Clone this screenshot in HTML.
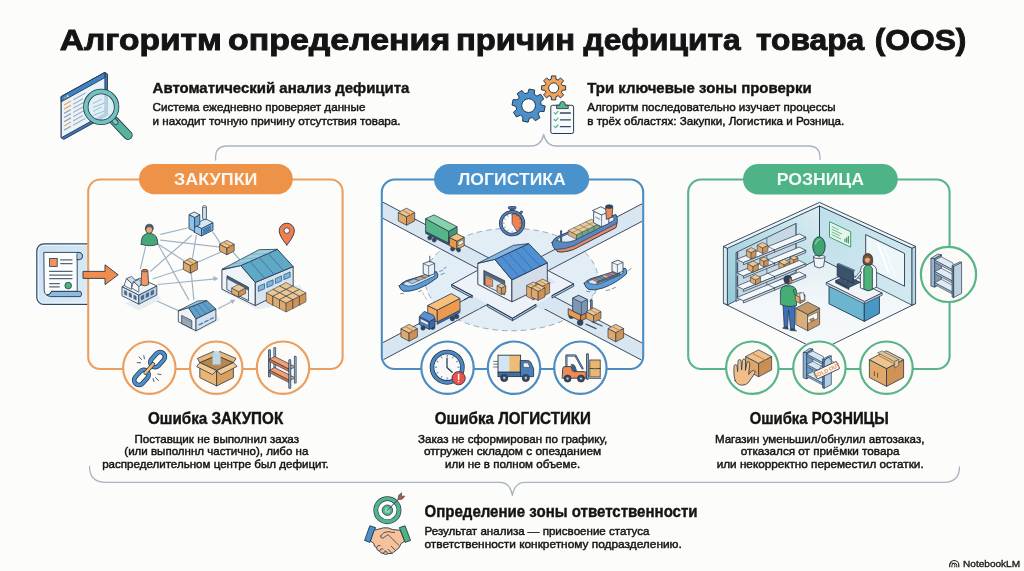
<!DOCTYPE html>
<html lang="ru">
<head>
<meta charset="utf-8">
<title>Алгоритм определения причин дефицита товара (OOS)</title>
<style>
html,body{margin:0;padding:0;background:#fcfcfa;}
body{width:1024px;height:571px;overflow:hidden;font-family:"Liberation Sans",sans-serif;}
svg{display:block;will-change:transform;}
text{font-family:"Liberation Sans",sans-serif;fill:#141414;}
.b{font-weight:bold;}
.body{font-size:11.6px;stroke:#141414;stroke-width:0.45px;}
.h{font-weight:bold;stroke:#141414;stroke-width:0.4px;}
</style>
</head>
<body>
<svg width="1024" height="571" viewBox="0 0 1024 571">
<rect x="0" y="0" width="1024" height="571" fill="#fcfcfa"/>

<!-- ===== TITLE ===== -->
<g class="b" font-size="29.4" style="stroke:#141414;stroke-width:0.9px">
<text x="59.8" y="49.7" textLength="162.0" lengthAdjust="spacingAndGlyphs">Алгоритм</text>
<text x="228.0" y="49.7" textLength="222.2" lengthAdjust="spacingAndGlyphs">определения</text>
<text x="455.9" y="49.7" textLength="119.2" lengthAdjust="spacingAndGlyphs">причин</text>
<text x="583.6" y="49.7" textLength="157.0" lengthAdjust="spacingAndGlyphs">дефицита</text>
<text x="755.9" y="49.7" textLength="108.4" lengthAdjust="spacingAndGlyphs">товара</text>
<text x="874.8" y="49.7" textLength="91.6" lengthAdjust="spacingAndGlyphs">(OOS)</text>
</g>

<!-- ===== HEADER TEXTS ===== -->
<text class="h" x="152.6" y="93.2" font-size="14.8" textLength="256.8" lengthAdjust="spacingAndGlyphs">Автоматический анализ дефицита</text>
<text class="body" x="152.6" y="111.4" textLength="212.8" lengthAdjust="spacingAndGlyphs">Система ежедневно проверяет данные</text>
<text class="body" x="152.6" y="124.8" textLength="248.0" lengthAdjust="spacingAndGlyphs">и находит точную причину отсутствия товара.</text>

<text class="h" x="587.3" y="93.0" font-size="14.8" textLength="224.3" lengthAdjust="spacingAndGlyphs">Три ключевые зоны проверки</text>
<text class="body" x="587.3" y="111.4" textLength="248.3" lengthAdjust="spacingAndGlyphs">Алгоритм последовательно изучает процессы</text>
<text class="body" x="587.3" y="124.8" textLength="257.0" lengthAdjust="spacingAndGlyphs">в трёх областях: Закупки, Логистика и Розница.</text>

<!-- ===== CONNECTORS ===== -->
<g fill="none" stroke="#a9b4c0" stroke-width="1.3" stroke-linecap="round" stroke-linejoin="round">
<path d="M215.6 160 V157.4 Q215.6 146 227 146 H531 Q541 146 543.7 134.5 Q546.4 146 556.4 146 H808.5 Q820 146 820 157.4 V159.5"/>
<path d="M89.5 466.5 Q89.5 482.3 106 482.3 H500 Q510 482.3 512.4 495.3 Q514.8 482.3 524.8 482.3 H943.5 Q959.5 482.3 959.5 467"/>
</g>

<!-- ===== BOXES ===== -->
<g id="ill-doc">
<defs><linearGradient id="gTile" x1="0" y1="0" x2="1" y2="1"><stop offset="0" stop-color="#c9e0f1"/><stop offset="1" stop-color="#deedf8"/></linearGradient></defs>
<rect x="36.8" y="243.8" width="58.0" height="60.6" rx="7" fill="url(#gTile)" stroke="#2f4a68" stroke-width="1.2" />
<rect x="38.4" y="245.4" width="54.8" height="57.4" rx="5.6" fill="none" stroke="#eaf3fa" stroke-width="1.0" />
<path d="M44.2 252.4 H78 Q82.4 252.4 82.4 256.2 Q82.4 259.6 79.4 259.6 H77.2 V291.4 H51.6 Q50 295.6 46.6 294.8 Q44.2 294 44.2 290.6 Z" fill="#fbfcfd" stroke="#27394f" stroke-width="0.9" stroke-linecap="round" stroke-linejoin="round" />
<path d="M77.2 259.6 H79.4 Q82.4 259.6 82.4 256.2 Q82.4 252.4 78 252.4 Q76 254 77.2 259.6 Z" fill="#a9cde8" stroke="#27394f" stroke-width="0.8" stroke-linecap="round" stroke-linejoin="round" />
<path d="M51.6 291.4 H80.6 Q82.8 293.8 80.6 296.6 H50.4 Q48 296 46.6 294.8 Q50 295.6 51.6 291.4 Z" fill="#8dbbe0" stroke="#27394f" stroke-width="0.9" stroke-linecap="round" stroke-linejoin="round" />
<rect x="49.6" y="258.4" width="7.6" height="8.0" rx="0" fill="#f0925a" stroke="#27394f" stroke-width="0.8" />
<polyline points="60.6,259.8 72.0,259.8" fill="none" stroke="#566577" stroke-width="1.25" stroke-linecap="round" stroke-linejoin="round" />
<polyline points="60.6,263.6 72.0,263.6" fill="none" stroke="#566577" stroke-width="1.25" stroke-linecap="round" stroke-linejoin="round" />
<polyline points="49.6,271.4 72.0,271.4" fill="none" stroke="#566577" stroke-width="1.25" stroke-linecap="round" stroke-linejoin="round" />
<polyline points="49.6,275.0 72.0,275.0" fill="none" stroke="#566577" stroke-width="1.25" stroke-linecap="round" stroke-linejoin="round" />
<polyline points="49.6,278.6 72.0,278.6" fill="none" stroke="#566577" stroke-width="1.25" stroke-linecap="round" stroke-linejoin="round" />
<polyline points="49.6,283.6 59.4,283.6" fill="none" stroke="#566577" stroke-width="1.25" stroke-linecap="round" stroke-linejoin="round" />
<polyline points="49.6,286.8 59.4,286.8" fill="none" stroke="#566577" stroke-width="1.25" stroke-linecap="round" stroke-linejoin="round" />
<circle cx="68.2" cy="285.6" r="3.3" fill="#45b876" stroke="#27394f" stroke-width="0.8" />
</g>
<g fill="#fcfcfa" stroke-width="2.1">
<rect x="88.2" y="179.5" width="254.4" height="189.5" rx="12" stroke="#ea9f60"/>
<rect x="381.8" y="179.5" width="261.4" height="189.5" rx="13" stroke="#4d8cc2"/>
<rect x="688.2" y="179.5" width="261.4" height="189.5" rx="13" stroke="#59b48a"/>
</g>

<!-- ===== ILLUSTRATIONS (placeholders) ===== -->
<g id="hicons">
<polygon points="61.2,96.6 104.9,72.4 107.5,74.0 107.5,115.2 63.8,139.4 61.2,137.8" fill="#3d78b5" stroke="#27394f" stroke-width="0.9" stroke-linejoin="round" />
<polygon points="61.2,96.6 104.9,72.4 104.9,113.6 61.2,137.8" fill="#eaf3fa" stroke="#27394f" stroke-width="0.9" stroke-linejoin="round" />
<polygon points="61.2,96.6 104.9,72.4 104.9,77.6 61.2,101.8" fill="#3f83c6" stroke="#27394f" stroke-width="0.9" stroke-linejoin="round" />
<polyline points="64.5,104.7 70.5,101.3" fill="none" stroke="#f0a35a" stroke-width="1.3" stroke-linecap="round" stroke-linejoin="round" />
<polyline points="73.5,99.7 85.0,93.3" fill="none" stroke="#9fb0c2" stroke-width="1.1" stroke-linecap="round" stroke-linejoin="round" />
<polyline points="64.5,108.9 70.5,105.5" fill="none" stroke="#f0a35a" stroke-width="1.3" stroke-linecap="round" stroke-linejoin="round" />
<polyline points="73.5,103.9 82.5,98.9" fill="none" stroke="#9fb0c2" stroke-width="1.1" stroke-linecap="round" stroke-linejoin="round" />
<polyline points="64.5,113.1 70.5,109.7" fill="none" stroke="#8fa2b5" stroke-width="1.3" stroke-linecap="round" stroke-linejoin="round" />
<polyline points="73.5,108.1 85.0,101.7" fill="none" stroke="#9fb0c2" stroke-width="1.1" stroke-linecap="round" stroke-linejoin="round" />
<polyline points="64.5,117.3 70.5,113.9" fill="none" stroke="#8fa2b5" stroke-width="1.3" stroke-linecap="round" stroke-linejoin="round" />
<polyline points="73.5,112.3 82.5,107.3" fill="none" stroke="#9fb0c2" stroke-width="1.1" stroke-linecap="round" stroke-linejoin="round" />
<polyline points="64.5,121.5 70.5,118.1" fill="none" stroke="#8fa2b5" stroke-width="1.3" stroke-linecap="round" stroke-linejoin="round" />
<polyline points="73.5,116.5 85.0,110.1" fill="none" stroke="#9fb0c2" stroke-width="1.1" stroke-linecap="round" stroke-linejoin="round" />
<polyline points="64.5,125.7 70.5,122.3" fill="none" stroke="#f0a35a" stroke-width="1.3" stroke-linecap="round" stroke-linejoin="round" />
<polyline points="73.5,120.7 82.5,115.7" fill="none" stroke="#9fb0c2" stroke-width="1.1" stroke-linecap="round" stroke-linejoin="round" />
<polyline points="64.5,129.9 70.5,126.5" fill="none" stroke="#8fa2b5" stroke-width="1.3" stroke-linecap="round" stroke-linejoin="round" />
<polyline points="73.5,124.9 85.0,118.5" fill="none" stroke="#9fb0c2" stroke-width="1.1" stroke-linecap="round" stroke-linejoin="round" />
<g transform="translate(0.4,0.8)">
<polyline points="113.6,119.8 127.6,134.4" fill="none" stroke="#27394f" stroke-width="9.4" stroke-linecap="round" stroke-linejoin="round" />
<polyline points="113.6,119.8 127.6,134.4" fill="none" stroke="#58b39c" stroke-width="7.6" stroke-linecap="round" stroke-linejoin="round" />
<polyline points="110.5,116.5 115.5,121.6" fill="none" stroke="#27394f" stroke-width="5.2" stroke-linecap="round" stroke-linejoin="round" />
<polyline points="110.5,116.5 115.5,121.6" fill="none" stroke="#7fc7c0" stroke-width="3.6" stroke-linecap="round" stroke-linejoin="round" />
<circle cx="100.8" cy="106.1" r="15.3" fill="#d9eef6" stroke="#27394f" stroke-width="0" fill-opacity="0.78"/>
<circle cx="100.8" cy="106.1" r="15.4" fill="none" stroke="#27394f" stroke-width="5.4" />
<circle cx="100.8" cy="106.1" r="15.4" fill="none" stroke="#72c2bd" stroke-width="3.8" />
<polyline points="93.0,102.5 101.0,98.3" fill="none" stroke="#a9bccb" stroke-width="1.0" stroke-linecap="round" stroke-linejoin="round" />
<polyline points="93.0,106.5 104.0,102.3" fill="none" stroke="#a9bccb" stroke-width="1.0" stroke-linecap="round" stroke-linejoin="round" />
<polyline points="93.0,110.5 101.0,106.3" fill="none" stroke="#a9bccb" stroke-width="1.0" stroke-linecap="round" stroke-linejoin="round" />
<polyline points="93.0,114.5 104.0,110.3" fill="none" stroke="#a9bccb" stroke-width="1.0" stroke-linecap="round" stroke-linejoin="round" />
</g>
<circle cx="65.0" cy="97.6" r="0.9" fill="#f0a35a" stroke="none" stroke-width="0" />
<circle cx="67.6" cy="96.2" r="0.9" fill="#eaf3fa" stroke="none" stroke-width="0" />
<polygon points="541.2,104.8 545.2,106.1 544.1,111.6 539.9,111.3 538.1,113.9 540.0,117.7 535.3,120.8 532.5,117.6 529.4,118.2 528.1,122.2 522.6,121.1 522.9,116.9 520.3,115.1 516.5,117.0 513.4,112.3 516.6,109.5 516.0,106.4 512.0,105.1 513.1,99.6 517.3,99.9 519.1,97.3 517.2,93.5 521.9,90.4 524.7,93.6 527.8,93.0 529.1,89.0 534.6,90.1 534.3,94.3 536.9,96.1 540.7,94.2 543.8,98.9 540.6,101.7" fill="#4b8fcb" stroke="#27394f" stroke-width="1.0" stroke-linejoin="round" /><circle cx="528.6" cy="105.6" r="6.9" fill="#fcfcfa" stroke="#27394f" stroke-width="1.0" />
<polygon points="562.3,85.5 565.6,85.8 565.6,90.0 562.3,90.3 561.4,92.4 563.6,94.9 560.6,97.9 558.1,95.7 556.0,96.6 555.7,99.9 551.5,99.9 551.2,96.6 549.1,95.7 546.6,97.9 543.6,94.9 545.8,92.4 544.9,90.3 541.6,90.0 541.6,85.8 544.9,85.5 545.8,83.4 543.6,80.9 546.6,77.9 549.1,80.1 551.2,79.2 551.5,75.9 555.7,75.9 556.0,79.2 558.1,80.1 560.6,77.9 563.6,80.9 561.4,83.4" fill="#f2a254" stroke="#27394f" stroke-width="1.0" stroke-linejoin="round" /><circle cx="553.6" cy="87.9" r="5.0" fill="#fcfcfa" stroke="#27394f" stroke-width="1.0" />
<rect x="550.8" y="105.3" width="22.8" height="28.2" rx="1.8" fill="#f7fafc" stroke="#27394f" stroke-width="1.0" />
<path d="M556.6 108.2 V105.2 H559.6 Q559.6 101.4 562.4 101.4 Q565.4 101.4 565.4 105.2 H568.2 V108.2 Z" fill="#59b58b" stroke="#27394f" stroke-width="0.9" stroke-linecap="round" stroke-linejoin="round" />
<polyline points="554.2,112.7 555.6,114.1 558.0,111.4" fill="none" stroke="#4db383" stroke-width="1.2" stroke-linecap="round" stroke-linejoin="round" />
<polyline points="560.4,113.0 570.4,113.0" fill="none" stroke="#33465c" stroke-width="1.3" stroke-linecap="round" stroke-linejoin="round" />
<polyline points="554.2,119.5 555.6,120.9 558.0,118.2" fill="none" stroke="#4db383" stroke-width="1.2" stroke-linecap="round" stroke-linejoin="round" />
<polyline points="560.4,119.8 570.4,119.8" fill="none" stroke="#33465c" stroke-width="1.3" stroke-linecap="round" stroke-linejoin="round" />
<polyline points="554.2,126.3 555.6,127.7 558.0,125.0" fill="none" stroke="#4db383" stroke-width="1.2" stroke-linecap="round" stroke-linejoin="round" />
<polyline points="560.4,126.6 570.4,126.6" fill="none" stroke="#33465c" stroke-width="1.3" stroke-linecap="round" stroke-linejoin="round" />
</g>
<g id="ill-zak">
<polyline points="160.7,234.4 187.4,228.0" fill="none" stroke="#a1b4c4" stroke-width="1.2" stroke-linecap="round" stroke-linejoin="round" />
<polyline points="160.7,240.2 220.4,247.1" fill="none" stroke="#a1b4c4" stroke-width="1.2" stroke-linecap="round" stroke-linejoin="round" />
<polyline points="158.2,244.5 188.7,299.6" fill="none" stroke="#a1b4c4" stroke-width="1.2" stroke-linecap="round" stroke-linejoin="round" />
<polyline points="145.5,247.1 140.4,268.7" fill="none" stroke="#a1b4c4" stroke-width="1.2" stroke-linecap="round" stroke-linejoin="round" />
<polyline points="156.9,243.3 183.6,260.5" fill="none" stroke="#a1b4c4" stroke-width="1.2" stroke-linecap="round" stroke-linejoin="round" />
<polyline points="150.6,271.2 191.2,235.7" fill="none" stroke="#a1b4c4" stroke-width="1.2" stroke-linecap="round" stroke-linejoin="round" />
<polyline points="153.1,278.8 183.6,268.7" fill="none" stroke="#a1b4c4" stroke-width="1.2" stroke-linecap="round" stroke-linejoin="round" />
<polyline points="153.1,299.2 178.5,310.6" fill="none" stroke="#a1b4c4" stroke-width="1.2" stroke-linecap="round" stroke-linejoin="round" />
<polyline points="196.3,235.7 192.5,258.0" fill="none" stroke="#a1b4c4" stroke-width="1.2" stroke-linecap="round" stroke-linejoin="round" />
<polyline points="212.8,231.8 220.4,243.3" fill="none" stroke="#a1b4c4" stroke-width="1.2" stroke-linecap="round" stroke-linejoin="round" />
<polyline points="197.6,262.3 220.4,252.2" fill="none" stroke="#a1b4c4" stroke-width="1.2" stroke-linecap="round" stroke-linejoin="round" />
<polyline points="191.2,272.5 193.8,299.4" fill="none" stroke="#a1b4c4" stroke-width="1.2" stroke-linecap="round" stroke-linejoin="round" />
<polyline points="158.0,284.5 215.5,278.8" fill="none" stroke="#a1b4c4" stroke-width="1.2" stroke-linecap="round" stroke-linejoin="round" />
<polygon points="218.0,278.5 213.6,276.4 214.0,280.8" fill="#a1b4c4" stroke="#a1b4c4" stroke-width="0.5" stroke-linejoin="round" />
<polyline points="218.6,308.5 232.5,301.2" fill="none" stroke="#a1b4c4" stroke-width="1.2" stroke-linecap="round" stroke-linejoin="round" />
<polygon points="235.0,299.9 230.4,300.0 232.6,303.6" fill="#a1b4c4" stroke="#a1b4c4" stroke-width="0.5" stroke-linejoin="round" />
<polyline points="233.0,252.0 240.0,260.0" fill="none" stroke="#a1b4c4" stroke-width="1.2" stroke-linecap="round" stroke-linejoin="round" />
<polygon points="83.0,271.4 105.0,271.4 105.0,264.8 118.2,274.8 105.0,284.6 105.0,278.4 83.0,278.4" fill="#f08c4e" stroke="#27394f" stroke-width="0.9" stroke-linejoin="round" />
<path d="M141.2 244.2 Q141.0 234.4 147.2 233.6 L151.2 233.6 Q157.8 234.4 157.8 244.2 Q149.4 247.4 141.2 244.2 Z" fill="#45a877" stroke="#27394f" stroke-width="0.8" stroke-linecap="round" stroke-linejoin="round" />
<ellipse cx="149.2" cy="229.4" rx="3.5" ry="4.0" fill="#e9ab72" stroke="#27394f" stroke-width="0.8" />
<path d="M145.4 229.6 Q144.8 224.2 149.4 224.2 Q153.8 224.2 153.2 229.4 Q152.2 226.4 149.2 226.6 Q146.4 226.6 145.4 229.6 Z" fill="#46607c" stroke="#27394f" stroke-width="0.6" stroke-linecap="round" stroke-linejoin="round" />
<polygon points="194.0,224.6 201.6,228.4 201.6,236.0 194.0,232.2" fill="#9ccaec" stroke="#27394f" stroke-width="0.8" stroke-linejoin="round" />
<polygon points="201.6,228.4 213.0,222.6 213.0,230.2 201.6,236.0" fill="#78b0df" stroke="#27394f" stroke-width="0.8" stroke-linejoin="round" />
<polygon points="194.0,224.6 205.4,218.8 213.0,222.6 201.6,228.4" fill="#d4e8f6" stroke="#27394f" stroke-width="0.8" stroke-linejoin="round" />
<polygon points="189.0,214.6 194.6,217.4 194.6,231.6 189.0,228.8" fill="#8fc2e8" stroke="#27394f" stroke-width="0.8" stroke-linejoin="round" />
<polygon points="194.6,217.4 199.8,214.8 199.8,224.6 194.6,227.2" fill="#6ea9da" stroke="#27394f" stroke-width="0.8" stroke-linejoin="round" />
<polygon points="189.0,214.6 194.2,212.0 199.8,214.8 194.6,217.4" fill="#d9ebf8" stroke="#27394f" stroke-width="0.8" stroke-linejoin="round" />
<rect x="202.6" y="206.2" width="3.8" height="13.4" rx="1.6" fill="#cfe3f3" stroke="#27394f" stroke-width="0.8" />
<ellipse cx="204.5" cy="206.6" rx="1.9" ry="0.9" fill="#eaf3fa" stroke="#27394f" stroke-width="0.6" />
<polyline points="203.4,229.6 210.6,226.0" fill="none" stroke="#2f6299" stroke-width="0.9" stroke-linecap="round" stroke-linejoin="round" />
<polyline points="203.4,230.9 210.6,227.3" fill="none" stroke="#2f6299" stroke-width="0.9" stroke-linecap="round" stroke-linejoin="round" />
<polyline points="203.4,232.3 210.6,228.7" fill="none" stroke="#2f6299" stroke-width="0.9" stroke-linecap="round" stroke-linejoin="round" />
<polyline points="203.4,233.7 210.6,230.1" fill="none" stroke="#2f6299" stroke-width="0.9" stroke-linecap="round" stroke-linejoin="round" />
<polygon points="183.4,261.8 190.4,265.5 190.4,273.2 183.4,269.6" fill="#e0a869" stroke="#27394f" stroke-width="0.7" stroke-linejoin="round" />
<polygon points="190.4,265.5 197.4,261.8 197.4,269.6 190.4,273.2" fill="#cf9355" stroke="#27394f" stroke-width="0.7" stroke-linejoin="round" />
<polygon points="190.4,258.2 197.4,261.8 190.4,265.5 183.4,261.8" fill="#edc590" stroke="#27394f" stroke-width="0.7" stroke-linejoin="round" />
<polyline points="186.9,260.0 193.9,263.7" fill="none" stroke="#c98a48" stroke-width="1.1199999999999999" stroke-linecap="round" stroke-linejoin="round" />
<polyline points="193.9,263.7 193.9,266.4" fill="none" stroke="#c98a48" stroke-width="1.1199999999999999" stroke-linecap="round" stroke-linejoin="round" />
<polygon points="219.6,244.2 226.9,248.0 226.9,254.8 219.6,251.0" fill="#e0a869" stroke="#27394f" stroke-width="0.7" stroke-linejoin="round" />
<polygon points="226.9,248.0 234.2,244.2 234.2,251.0 226.9,254.8" fill="#cf9355" stroke="#27394f" stroke-width="0.7" stroke-linejoin="round" />
<polygon points="226.9,240.4 234.2,244.2 226.9,248.0 219.6,244.2" fill="#edc590" stroke="#27394f" stroke-width="0.7" stroke-linejoin="round" />
<polyline points="223.2,242.3 230.5,246.1" fill="none" stroke="#c98a48" stroke-width="1.1199999999999999" stroke-linecap="round" stroke-linejoin="round" />
<polyline points="230.5,246.1 230.5,248.7" fill="none" stroke="#c98a48" stroke-width="1.1199999999999999" stroke-linecap="round" stroke-linejoin="round" />
<polygon points="124.0,303.0 139.0,310.4 161.0,299.0 156.8,293.0" fill="#e6edf3" stroke="none" stroke-width="0" stroke-linejoin="round" />
<polygon points="122.0,286.6 138.8,295.0 138.8,304.2 122.0,295.8" fill="#dfe9f3" stroke="#27394f" stroke-width="0.8" stroke-linejoin="round" />
<polygon points="138.8,295.0 156.8,285.9 156.8,295.0 138.8,304.2" fill="#b9d0e8" stroke="#27394f" stroke-width="0.8" stroke-linejoin="round" />
<polygon points="122.0,286.6 139.6,278.2 156.8,285.9 138.8,295.0" fill="#eef3f8" stroke="#27394f" stroke-width="0.8" stroke-linejoin="round" />
<polygon points="124.2,285.6 126.4,278.6 131.6,283.4 131.6,289.4" fill="#f6f9fb" stroke="#27394f" stroke-width="0.7" stroke-linejoin="round" />
<polygon points="126.4,278.6 131.6,276.4 136.4,281.0 131.6,283.4" fill="#cddbe8" stroke="#27394f" stroke-width="0.7" stroke-linejoin="round" />
<polygon points="131.6,288.0 133.6,281.6 138.8,286.4 138.8,292.2" fill="#f6f9fb" stroke="#27394f" stroke-width="0.7" stroke-linejoin="round" />
<polygon points="133.6,281.6 138.8,279.4 143.6,284.0 138.8,286.4" fill="#cddbe8" stroke="#27394f" stroke-width="0.7" stroke-linejoin="round" />
<path d="M141.0 284.6 L141.8 270.6 Q144.8 268.6 147.8 270.6 L148.6 284.6 Q144.8 287.2 141.0 284.6 Z" fill="#ee9a62" stroke="#27394f" stroke-width="0.8" stroke-linecap="round" stroke-linejoin="round" />
<ellipse cx="144.8" cy="270.6" rx="3.0" ry="1.3" fill="#c9713e" stroke="#27394f" stroke-width="0.6" />
<polygon points="124.4,290.4 126.8,291.6 126.8,295.4 124.4,294.2" fill="#46709f" stroke="#27394f" stroke-width="0.4" stroke-linejoin="round" />
<polygon points="129.1,292.7 131.5,293.9 131.5,297.7 129.1,296.5" fill="#46709f" stroke="#27394f" stroke-width="0.4" stroke-linejoin="round" />
<polygon points="133.8,295.0 136.2,296.2 136.2,300.0 133.8,298.8" fill="#46709f" stroke="#27394f" stroke-width="0.4" stroke-linejoin="round" />
<polygon points="141.2,296.2 143.8,294.9 143.8,298.7 141.2,300.0" fill="#46709f" stroke="#27394f" stroke-width="0.4" stroke-linejoin="round" />
<polygon points="146.1,293.8 148.7,292.5 148.7,296.3 146.1,297.6" fill="#46709f" stroke="#27394f" stroke-width="0.4" stroke-linejoin="round" />
<polygon points="151.0,291.4 153.6,290.1 153.6,293.9 151.0,295.2" fill="#46709f" stroke="#27394f" stroke-width="0.4" stroke-linejoin="round" />
<polygon points="180.0,324.0 196.0,332.4 220.0,320.0 215.9,314.0" fill="#e6edf3" stroke="none" stroke-width="0" stroke-linejoin="round" />
<polygon points="178.3,311.1 188.6,307.6 196.0,318.9 196.0,330.8 178.3,321.7" fill="#eef3f8" stroke="#27394f" stroke-width="0.8" stroke-linejoin="round" />
<polygon points="196.0,318.9 215.9,309.0 215.9,320.3 196.0,330.8" fill="#d2e1ee" stroke="#27394f" stroke-width="0.8" stroke-linejoin="round" />
<polygon points="188.6,307.6 206.8,300.6 215.9,309.0 196.0,318.9" fill="#5f9fc8" stroke="#27394f" stroke-width="0.8" stroke-linejoin="round" />
<polygon points="178.3,310.7 197.7,300.9 206.8,300.6 188.6,307.6" fill="#93c3df" stroke="#27394f" stroke-width="0.7" stroke-linejoin="round" />
<polyline points="193.2,305.9 201.0,316.4" fill="none" stroke="#35668c" stroke-width="0.6" stroke-linecap="round" stroke-linejoin="round" />
<polyline points="197.7,304.1 205.9,313.9" fill="none" stroke="#35668c" stroke-width="0.6" stroke-linecap="round" stroke-linejoin="round" />
<polyline points="202.2,302.4 210.9,311.5" fill="none" stroke="#35668c" stroke-width="0.6" stroke-linecap="round" stroke-linejoin="round" />
<polygon points="181.6,315.4 191.8,320.5 191.8,328.7 181.6,323.4" fill="#9ba7b2" stroke="#27394f" stroke-width="0.7" stroke-linejoin="round" />
<polyline points="181.6,317.4 191.8,322.5" fill="none" stroke="#6f7c88" stroke-width="0.5" stroke-linecap="round" stroke-linejoin="round" />
<polyline points="199.2,324.8 202.6,323.1" fill="none" stroke="#3c6fa6" stroke-width="1.2" stroke-linecap="round" stroke-linejoin="round" />
<polyline points="204.8,322.0 208.2,320.3" fill="none" stroke="#3c6fa6" stroke-width="1.2" stroke-linecap="round" stroke-linejoin="round" />
<polyline points="210.2,319.2 213.2,317.7" fill="none" stroke="#3c6fa6" stroke-width="1.2" stroke-linecap="round" stroke-linejoin="round" />
<polygon points="222.0,291.0 257.0,309.5 308.0,300.0 300.0,285.0" fill="#e6edf3" stroke="none" stroke-width="0" stroke-linejoin="round" />
<polygon points="221.9,269.9 240.8,265.5 255.3,282.4 255.3,305.6 221.9,289.2" fill="#eff4f8" stroke="#27394f" stroke-width="0.9" stroke-linejoin="round" />
<polygon points="255.3,282.4 293.2,266.6 293.2,287.0 255.3,305.6" fill="#d7e4ef" stroke="#27394f" stroke-width="0.9" stroke-linejoin="round" />
<polygon points="240.8,265.5 277.4,249.3 293.2,266.6 255.3,282.4" fill="#5fa8c6" stroke="#27394f" stroke-width="0.9" stroke-linejoin="round" />
<polygon points="221.9,269.3 259.1,249.7 277.4,249.3 240.8,265.5" fill="#9ccfe0" stroke="#27394f" stroke-width="0.8" stroke-linejoin="round" />
<polyline points="249.9,261.4 264.8,278.4" fill="none" stroke="#2f6788" stroke-width="0.7" stroke-linecap="round" stroke-linejoin="round" />
<polyline points="231.2,264.4 249.9,261.4" fill="none" stroke="#5f9fb8" stroke-width="0.5" stroke-linecap="round" stroke-linejoin="round" />
<polyline points="259.1,257.4 274.2,274.5" fill="none" stroke="#2f6788" stroke-width="0.7" stroke-linecap="round" stroke-linejoin="round" />
<polyline points="240.5,259.5 259.1,257.4" fill="none" stroke="#5f9fb8" stroke-width="0.5" stroke-linecap="round" stroke-linejoin="round" />
<polyline points="268.2,253.4 283.7,270.6" fill="none" stroke="#2f6788" stroke-width="0.7" stroke-linecap="round" stroke-linejoin="round" />
<polyline points="249.8,254.6 268.2,253.4" fill="none" stroke="#5f9fb8" stroke-width="0.5" stroke-linecap="round" stroke-linejoin="round" />
<polygon points="227.0,275.7 248.5,287.3 248.5,300.6 227.0,289.4" fill="#4b6076" stroke="#27394f" stroke-width="0.8" stroke-linejoin="round" />
<polygon points="227.0,278.6 248.5,290.2 248.5,300.6 227.0,289.4" fill="#e3eaf0" stroke="#27394f" stroke-width="0.5" stroke-linejoin="round" />
<polygon points="231.6,288.0 238.6,291.7 238.6,297.0 231.6,293.4" fill="#e0a869" stroke="#27394f" stroke-width="0.6" stroke-linejoin="round" />
<polygon points="238.6,291.7 245.6,288.0 245.6,293.4 238.6,297.0" fill="#cf9355" stroke="#27394f" stroke-width="0.6" stroke-linejoin="round" />
<polygon points="238.6,284.4 245.6,288.0 238.6,291.7 231.6,288.0" fill="#edc590" stroke="#27394f" stroke-width="0.6" stroke-linejoin="round" />
<polygon points="258.4,286.4 264.6,283.7 264.6,288.7 258.4,291.4" fill="#7fb7d8" stroke="#2f5f8a" stroke-width="0.8" stroke-linejoin="round" />
<polygon points="266.9,282.5 273.1,279.8 273.1,284.8 266.9,287.5" fill="#7fb7d8" stroke="#2f5f8a" stroke-width="0.8" stroke-linejoin="round" />
<polygon points="275.4,278.6 281.6,275.9 281.6,280.9 275.4,283.6" fill="#7fb7d8" stroke="#2f5f8a" stroke-width="0.8" stroke-linejoin="round" />
<polygon points="283.9,274.7 290.1,272.0 290.1,277.0 283.9,279.7" fill="#7fb7d8" stroke="#2f5f8a" stroke-width="0.8" stroke-linejoin="round" />
<polygon points="279.5,286.0 286.1,289.5 286.1,298.4 279.5,295.0" fill="#e0a869" stroke="#27394f" stroke-width="0.55" stroke-linejoin="round" />
<polygon points="286.1,289.5 292.7,286.0 292.7,295.0 286.1,298.4" fill="#cf9355" stroke="#27394f" stroke-width="0.55" stroke-linejoin="round" />
<polygon points="286.1,282.6 292.7,286.0 286.1,289.5 279.5,286.0" fill="#edc590" stroke="#27394f" stroke-width="0.55" stroke-linejoin="round" />
<polygon points="272.9,289.4 279.5,292.9 279.5,301.8 272.9,298.4" fill="#e0a869" stroke="#27394f" stroke-width="0.55" stroke-linejoin="round" />
<polygon points="279.5,292.9 286.1,289.4 286.1,298.4 279.5,301.8" fill="#cf9355" stroke="#27394f" stroke-width="0.55" stroke-linejoin="round" />
<polygon points="279.5,286.0 286.1,289.4 279.5,292.9 272.9,289.4" fill="#edc590" stroke="#27394f" stroke-width="0.55" stroke-linejoin="round" />
<polygon points="286.1,289.4 292.7,292.9 292.7,301.8 286.1,298.4" fill="#e0a869" stroke="#27394f" stroke-width="0.55" stroke-linejoin="round" />
<polygon points="292.7,292.9 299.3,289.4 299.3,298.4 292.7,301.8" fill="#cf9355" stroke="#27394f" stroke-width="0.55" stroke-linejoin="round" />
<polygon points="292.7,286.0 299.3,289.4 292.7,292.9 286.1,289.4" fill="#edc590" stroke="#27394f" stroke-width="0.55" stroke-linejoin="round" />
<polygon points="266.3,292.8 272.9,296.3 272.9,305.2 266.3,301.8" fill="#e0a869" stroke="#27394f" stroke-width="0.55" stroke-linejoin="round" />
<polygon points="272.9,296.3 279.5,292.8 279.5,301.8 272.9,305.2" fill="#cf9355" stroke="#27394f" stroke-width="0.55" stroke-linejoin="round" />
<polygon points="272.9,289.4 279.5,292.8 272.9,296.3 266.3,292.8" fill="#edc590" stroke="#27394f" stroke-width="0.55" stroke-linejoin="round" />
<polygon points="279.5,292.8 286.1,296.3 286.1,305.2 279.5,301.8" fill="#e0a869" stroke="#27394f" stroke-width="0.55" stroke-linejoin="round" />
<polygon points="286.1,296.3 292.7,292.8 292.7,301.8 286.1,305.2" fill="#cf9355" stroke="#27394f" stroke-width="0.55" stroke-linejoin="round" />
<polygon points="286.1,289.4 292.7,292.8 286.1,296.3 279.5,292.8" fill="#edc590" stroke="#27394f" stroke-width="0.55" stroke-linejoin="round" />
<polygon points="292.7,292.8 299.3,296.3 299.3,305.2 292.7,301.8" fill="#e0a869" stroke="#27394f" stroke-width="0.55" stroke-linejoin="round" />
<polygon points="299.3,296.3 305.9,292.8 305.9,301.8 299.3,305.2" fill="#cf9355" stroke="#27394f" stroke-width="0.55" stroke-linejoin="round" />
<polygon points="299.3,289.4 305.9,292.8 299.3,296.3 292.7,292.8" fill="#edc590" stroke="#27394f" stroke-width="0.55" stroke-linejoin="round" />
<polygon points="272.9,296.2 279.5,299.7 279.5,308.6 272.9,305.2" fill="#e0a869" stroke="#27394f" stroke-width="0.55" stroke-linejoin="round" />
<polygon points="279.5,299.7 286.1,296.2 286.1,305.2 279.5,308.6" fill="#cf9355" stroke="#27394f" stroke-width="0.55" stroke-linejoin="round" />
<polygon points="279.5,292.8 286.1,296.2 279.5,299.7 272.9,296.2" fill="#edc590" stroke="#27394f" stroke-width="0.55" stroke-linejoin="round" />
<polygon points="286.1,296.2 292.7,299.7 292.7,308.6 286.1,305.2" fill="#e0a869" stroke="#27394f" stroke-width="0.55" stroke-linejoin="round" />
<polygon points="292.7,299.7 299.3,296.2 299.3,305.2 292.7,308.6" fill="#cf9355" stroke="#27394f" stroke-width="0.55" stroke-linejoin="round" />
<polygon points="292.7,292.8 299.3,296.2 292.7,299.7 286.1,296.2" fill="#edc590" stroke="#27394f" stroke-width="0.55" stroke-linejoin="round" />
<polygon points="279.5,299.6 286.1,303.1 286.1,312.0 279.5,308.6" fill="#e0a869" stroke="#27394f" stroke-width="0.55" stroke-linejoin="round" />
<polygon points="286.1,303.1 292.7,299.6 292.7,308.6 286.1,312.0" fill="#cf9355" stroke="#27394f" stroke-width="0.55" stroke-linejoin="round" />
<polygon points="286.1,296.2 292.7,299.6 286.1,303.1 279.5,299.6" fill="#edc590" stroke="#27394f" stroke-width="0.55" stroke-linejoin="round" />
<path d="M286.8 245.0 Q279.2 236 279.2 230.8 A7.6 7.6 0 0 1 294.4 230.8 Q294.4 236 286.8 245.0 Z" fill="#f07d4c" stroke="#27394f" stroke-width="0.9" stroke-linecap="round" stroke-linejoin="round" />
<circle cx="286.8" cy="230.6" r="2.8" fill="#fcfcfa" stroke="#27394f" stroke-width="0.8" />
</g>
<g id="ill-log">
<defs><clipPath id="clipLog"><rect x="383" y="180" width="259" height="188" rx="12"/></clipPath></defs>
<g clip-path="url(#clipLog)">
<ellipse cx="511.5" cy="279.5" rx="86.5" ry="51.3" fill="#e3edf6" stroke="#9aa9b9" stroke-width="1.0" stroke-dasharray="5.5 4"/>
<polygon points="370.0,195.4 490.0,258.6 490.0,275.1 370.0,211.5" fill="#d8e6f2" stroke="none" stroke-width="0" stroke-linejoin="round" /><polyline points="370.0,195.4 490.0,258.6" fill="none" stroke="#27394f" stroke-width="0.9" stroke-linecap="round" stroke-linejoin="round" /><polyline points="490.0,275.1 370.0,211.5" fill="none" stroke="#27394f" stroke-width="0.9" stroke-linecap="round" stroke-linejoin="round" />
<polygon points="535.0,259.8 655.0,197.0 655.0,214.5 535.0,277.5" fill="#d8e6f2" stroke="none" stroke-width="0" stroke-linejoin="round" /><polyline points="535.0,259.8 655.0,197.0" fill="none" stroke="#27394f" stroke-width="0.9" stroke-linecap="round" stroke-linejoin="round" /><polyline points="655.0,214.5 535.0,277.5" fill="none" stroke="#27394f" stroke-width="0.9" stroke-linecap="round" stroke-linejoin="round" />
<polygon points="472.2,295.6 370.0,349.4 370.0,366.8 487.6,304.4" fill="#d8e6f2" stroke="none" stroke-width="0" stroke-linejoin="round" /><polyline points="472.2,295.6 370.0,349.4" fill="none" stroke="#27394f" stroke-width="0.9" stroke-linecap="round" stroke-linejoin="round" /><polyline points="370.0,366.8 487.6,304.4" fill="none" stroke="#27394f" stroke-width="0.9" stroke-linecap="round" stroke-linejoin="round" />
<polygon points="552.0,295.6 655.0,349.8 655.0,367.2 535.9,304.4" fill="#d8e6f2" stroke="none" stroke-width="0" stroke-linejoin="round" /><polyline points="552.0,295.6 655.0,349.8" fill="none" stroke="#27394f" stroke-width="0.9" stroke-linecap="round" stroke-linejoin="round" /><polyline points="655.0,367.2 535.9,304.4" fill="none" stroke="#27394f" stroke-width="0.9" stroke-linecap="round" stroke-linejoin="round" />
<polygon points="451.7,284.6 512.5,318.3 573.6,283.9 573.6,286.3 512.5,320.9 451.7,287.0" fill="#a9c3db" stroke="none" stroke-width="0" stroke-linejoin="round" />
<polygon points="451.7,284.6 512.5,318.3 573.6,283.9 512.5,250.6" fill="#edf2f8" stroke="none" stroke-width="0" stroke-linejoin="round" />
<polygon points="472.2,295.6 487.6,304.4 481.6,310.4 466.2,301.6" fill="#d8e6f2" stroke="none" stroke-width="0" stroke-linejoin="round" />
<polygon points="535.9,304.4 552.0,295.6 558.0,301.6 541.9,310.4" fill="#d8e6f2" stroke="none" stroke-width="0" stroke-linejoin="round" />
<polygon points="451.7,284.6 472.2,295.6 472.2,298.0 451.7,287.0" fill="#a9c3db" stroke="#27394f" stroke-width="0.8" stroke-linejoin="round" /><polyline points="451.7,284.6 472.2,295.6" fill="none" stroke="#27394f" stroke-width="0.9" stroke-linecap="round" stroke-linejoin="round" />
<polygon points="487.6,304.4 512.5,318.3 512.5,320.7 487.6,306.8" fill="#a9c3db" stroke="#27394f" stroke-width="0.8" stroke-linejoin="round" /><polyline points="487.6,304.4 512.5,318.3" fill="none" stroke="#27394f" stroke-width="0.9" stroke-linecap="round" stroke-linejoin="round" />
<polygon points="512.5,318.3 535.9,304.4 535.9,306.8 512.5,320.7" fill="#a9c3db" stroke="#27394f" stroke-width="0.8" stroke-linejoin="round" /><polyline points="512.5,318.3 535.9,304.4" fill="none" stroke="#27394f" stroke-width="0.9" stroke-linecap="round" stroke-linejoin="round" />
<polygon points="552.0,295.6 573.6,283.9 573.6,286.3 552.0,298.0" fill="#a9c3db" stroke="#27394f" stroke-width="0.8" stroke-linejoin="round" /><polyline points="552.0,295.6 573.6,283.9" fill="none" stroke="#27394f" stroke-width="0.9" stroke-linecap="round" stroke-linejoin="round" />
<polyline points="451.7,284.6 480.0,269.0" fill="none" stroke="#27394f" stroke-width="0.9" stroke-linecap="round" stroke-linejoin="round" />
<polyline points="573.6,283.9 545.0,269.0" fill="none" stroke="#27394f" stroke-width="0.9" stroke-linecap="round" stroke-linejoin="round" />
<polyline points="472.2,295.6 464.2,299.8" fill="none" stroke="#27394f" stroke-width="0.9" stroke-linecap="round" stroke-linejoin="round" />
<polyline points="487.6,304.4 479.6,308.6" fill="none" stroke="#27394f" stroke-width="0.9" stroke-linecap="round" stroke-linejoin="round" />
<polygon points="477.0,285.0 512.0,303.0 556.0,282.0 548.0,277.0" fill="#dbe5ef" stroke="none" stroke-width="0" stroke-linejoin="round" />
<polygon points="477.8,263.3 494.8,259.4 511.9,279.9 511.9,301.8 477.8,284.3" fill="#eef3f8" stroke="#27394f" stroke-width="0.9" stroke-linejoin="round" />
<polygon points="511.9,279.9 547.3,262.8 547.3,284.7 511.9,301.8" fill="#d3deea" stroke="#27394f" stroke-width="0.9" stroke-linejoin="round" />
<polygon points="494.8,259.4 528.7,243.6 547.3,262.8 511.9,279.9" fill="#4f8fd3" stroke="#27394f" stroke-width="0.9" stroke-linejoin="round" />
<polygon points="477.8,263.3 513.4,245.3 528.7,243.6 494.8,259.4" fill="#86b6e4" stroke="#27394f" stroke-width="0.8" stroke-linejoin="round" />
<polyline points="501.6,256.2 519.0,276.5" fill="none" stroke="#2f5f9a" stroke-width="0.6" stroke-linecap="round" stroke-linejoin="round" />
<polyline points="508.4,253.1 526.1,273.1" fill="none" stroke="#2f5f9a" stroke-width="0.6" stroke-linecap="round" stroke-linejoin="round" />
<polyline points="515.1,249.9 533.1,269.6" fill="none" stroke="#2f5f9a" stroke-width="0.6" stroke-linecap="round" stroke-linejoin="round" />
<polyline points="521.9,246.8 540.2,266.2" fill="none" stroke="#2f5f9a" stroke-width="0.6" stroke-linecap="round" stroke-linejoin="round" />
<polygon points="483.9,270.5 504.7,280.8 504.7,294.8 483.9,284.7" fill="#56677a" stroke="#27394f" stroke-width="0.8" stroke-linejoin="round" />
<polygon points="485.2,275.0 504.7,284.6 504.7,294.8 485.2,285.4" fill="#dfe6ee" stroke="#27394f" stroke-width="0.5" stroke-linejoin="round" />
<polygon points="485.2,276.4 492.6,280.0 492.6,286.6 485.2,285.4" fill="#e8935a" stroke="#27394f" stroke-width="0.5" stroke-linejoin="round" />
<polygon points="497.0,285.7 501.4,288.0 501.4,294.6 497.0,292.3" fill="#e0a869" stroke="#27394f" stroke-width="0.6" stroke-linejoin="round" />
<polygon points="501.4,288.0 505.8,285.7 505.8,292.3 501.4,294.6" fill="#cf9355" stroke="#27394f" stroke-width="0.6" stroke-linejoin="round" />
<polygon points="501.4,283.4 505.8,285.7 501.4,288.0 497.0,285.7" fill="#edc590" stroke="#27394f" stroke-width="0.6" stroke-linejoin="round" />
<polygon points="526.6,285.5 533.4,289.1 533.4,299.8 526.6,296.3" fill="#e0a869" stroke="#27394f" stroke-width="0.6" stroke-linejoin="round" />
<polygon points="533.4,289.1 540.2,285.5 540.2,296.3 533.4,299.8" fill="#cf9355" stroke="#27394f" stroke-width="0.6" stroke-linejoin="round" />
<polygon points="533.4,282.0 540.2,285.5 533.4,289.1 526.6,285.5" fill="#edc590" stroke="#27394f" stroke-width="0.6" stroke-linejoin="round" />
<polyline points="530.0,283.8 536.8,287.3" fill="none" stroke="#c98a48" stroke-width="0.96" stroke-linecap="round" stroke-linejoin="round" />
<polyline points="536.8,287.3 536.8,290.5" fill="none" stroke="#c98a48" stroke-width="0.96" stroke-linecap="round" stroke-linejoin="round" />
<polygon points="535.8,282.6 542.7,286.2 542.7,296.6 535.8,293.0" fill="#e0a869" stroke="#27394f" stroke-width="0.6" stroke-linejoin="round" />
<polygon points="542.7,286.2 549.6,282.6 549.6,293.0 542.7,296.6" fill="#cf9355" stroke="#27394f" stroke-width="0.6" stroke-linejoin="round" />
<polygon points="542.7,279.0 549.6,282.6 542.7,286.2 535.8,282.6" fill="#edc590" stroke="#27394f" stroke-width="0.6" stroke-linejoin="round" />
<polyline points="539.2,280.8 546.2,284.4" fill="none" stroke="#c98a48" stroke-width="0.96" stroke-linecap="round" stroke-linejoin="round" />
<polyline points="546.2,284.4 546.2,287.6" fill="none" stroke="#c98a48" stroke-width="0.96" stroke-linecap="round" stroke-linejoin="round" />
<polygon points="531.4,287.7 538.2,291.3 538.2,300.4 531.4,296.9" fill="#e0a869" stroke="#27394f" stroke-width="0.6" stroke-linejoin="round" />
<polygon points="538.2,291.3 545.0,287.7 545.0,296.9 538.2,300.4" fill="#cf9355" stroke="#27394f" stroke-width="0.6" stroke-linejoin="round" />
<polygon points="538.2,284.2 545.0,287.7 538.2,291.3 531.4,287.7" fill="#edc590" stroke="#27394f" stroke-width="0.6" stroke-linejoin="round" />
<polyline points="534.8,286.0 541.6,289.5" fill="none" stroke="#c98a48" stroke-width="0.96" stroke-linecap="round" stroke-linejoin="round" />
<polyline points="541.6,289.5 541.6,292.4" fill="none" stroke="#c98a48" stroke-width="0.96" stroke-linecap="round" stroke-linejoin="round" />
<g transform="translate(0.2,1.2)">
<rect x="510.2" y="207.2" width="3.6" height="4.2" rx="0" fill="#4f7fb4" stroke="#27394f" stroke-width="0.8" />
<rect x="508.2" y="205.4" width="7.6" height="2.4" rx="1" fill="#4f7fb4" stroke="#27394f" stroke-width="0.8" />
<polyline points="519.4,212.6 521.4,210.6" fill="none" stroke="#27394f" stroke-width="2.6" stroke-linecap="round" stroke-linejoin="round" />
<polyline points="519.4,212.6 521.4,210.6" fill="none" stroke="#4f7fb4" stroke-width="1.3" stroke-linecap="round" stroke-linejoin="round" />
<circle cx="511.9" cy="222.0" r="11.4" fill="#fbfcfd" stroke="#27394f" stroke-width="3.4" />
<circle cx="511.9" cy="222.0" r="11.4" fill="none" stroke="#4f7fb4" stroke-width="2.0" />
<path d="M511.9 222 V212.4 A9.6 9.6 0 0 1 517.2 230 Z" fill="#f0824f" stroke="#27394f" stroke-width="0.7" stroke-linecap="round" stroke-linejoin="round" />
<polyline points="511.9,214.0 511.9,212.8" fill="none" stroke="#44566b" stroke-width="0.6" stroke-linecap="round" stroke-linejoin="round" />
<polyline points="515.9,215.1 516.5,214.0" fill="none" stroke="#44566b" stroke-width="0.6" stroke-linecap="round" stroke-linejoin="round" />
<polyline points="518.8,218.0 519.9,217.4" fill="none" stroke="#44566b" stroke-width="0.6" stroke-linecap="round" stroke-linejoin="round" />
<polyline points="519.9,222.0 521.1,222.0" fill="none" stroke="#44566b" stroke-width="0.6" stroke-linecap="round" stroke-linejoin="round" />
<polyline points="518.8,226.0 519.9,226.6" fill="none" stroke="#44566b" stroke-width="0.6" stroke-linecap="round" stroke-linejoin="round" />
<polyline points="515.9,228.9 516.5,230.0" fill="none" stroke="#44566b" stroke-width="0.6" stroke-linecap="round" stroke-linejoin="round" />
<polyline points="511.9,230.0 511.9,231.2" fill="none" stroke="#44566b" stroke-width="0.6" stroke-linecap="round" stroke-linejoin="round" />
<polyline points="507.9,228.9 507.3,230.0" fill="none" stroke="#44566b" stroke-width="0.6" stroke-linecap="round" stroke-linejoin="round" />
<polyline points="505.0,226.0 503.9,226.6" fill="none" stroke="#44566b" stroke-width="0.6" stroke-linecap="round" stroke-linejoin="round" />
<polyline points="503.9,222.0 502.7,222.0" fill="none" stroke="#44566b" stroke-width="0.6" stroke-linecap="round" stroke-linejoin="round" />
<polyline points="505.0,218.0 503.9,217.4" fill="none" stroke="#44566b" stroke-width="0.6" stroke-linecap="round" stroke-linejoin="round" />
<polyline points="507.9,215.1 507.3,214.0" fill="none" stroke="#44566b" stroke-width="0.6" stroke-linecap="round" stroke-linejoin="round" />
</g>
<polygon points="398.3,212.5 406.5,216.7 406.5,225.2 398.3,220.9" fill="#e0a869" stroke="#27394f" stroke-width="0.7" stroke-linejoin="round" />
<polygon points="406.5,216.7 414.7,212.5 414.7,220.9 406.5,225.2" fill="#cf9355" stroke="#27394f" stroke-width="0.7" stroke-linejoin="round" />
<polygon points="406.5,208.2 414.7,212.5 406.5,216.7 398.3,212.5" fill="#edc590" stroke="#27394f" stroke-width="0.7" stroke-linejoin="round" />
<polyline points="402.4,210.3 410.6,214.6" fill="none" stroke="#c98a48" stroke-width="1.1199999999999999" stroke-linecap="round" stroke-linejoin="round" />
<polyline points="410.6,214.6 410.6,217.7" fill="none" stroke="#c98a48" stroke-width="1.1199999999999999" stroke-linecap="round" stroke-linejoin="round" />
<circle cx="429.8" cy="237.8" r="2.1" fill="#33465c" stroke="#27394f" stroke-width="0.6" />
<circle cx="434.2" cy="240.0" r="2.1" fill="#33465c" stroke="#27394f" stroke-width="0.6" />
<circle cx="452.6" cy="249.0" r="2.1" fill="#33465c" stroke="#27394f" stroke-width="0.6" />
<polygon points="425.6,230.6 448.7,242.4 448.7,245.2 425.6,233.4" fill="#3b5474" stroke="#27394f" stroke-width="0.6" stroke-linejoin="round" />
<polygon points="425.6,218.7 448.7,231.3 448.7,243.2 425.6,231.6" fill="#55b589" stroke="#27394f" stroke-width="0.8" stroke-linejoin="round" />
<polygon points="448.7,231.3 457.1,226.7 457.1,238.6 448.7,243.2" fill="#3f9a72" stroke="#27394f" stroke-width="0.8" stroke-linejoin="round" />
<polygon points="425.6,218.7 434.0,214.9 457.1,226.7 448.7,231.3" fill="#86d3ab" stroke="#27394f" stroke-width="0.8" stroke-linejoin="round" />
<polygon points="449.4,237.4 457.0,241.2 457.0,249.6 449.4,245.8" fill="#e99646" stroke="#27394f" stroke-width="0.8" stroke-linejoin="round" />
<polygon points="457.0,241.2 464.2,237.4 464.2,245.6 457.0,249.6" fill="#f3aa5a" stroke="#27394f" stroke-width="0.8" stroke-linejoin="round" />
<polygon points="449.4,237.4 456.6,233.6 464.2,237.4 457.0,241.2" fill="#f7c07a" stroke="#27394f" stroke-width="0.8" stroke-linejoin="round" />
<polygon points="458.2,242.2 463.2,239.6 463.2,243.2 458.2,245.8" fill="#eef3ea" stroke="#27394f" stroke-width="0.5" stroke-linejoin="round" />
<circle cx="458.6" cy="250.0" r="2.0" fill="#33465c" stroke="#27394f" stroke-width="0.6" />
<path d="M399.2 285.8 Q401.8 282.6 406.4 280.6 L436.4 271.6 Q438.8 274.4 437.4 277.6 Q428 285.4 417.4 289.2 Q409 292 403.4 291.2 Q399.6 289.4 399.2 285.8 Z" fill="#5a9bd8" stroke="#27394f" stroke-width="0.9" stroke-linecap="round" stroke-linejoin="round" />
<path d="M402.6 284.2 Q405.4 281.8 408.2 280.8 L434.2 272.8 Q435.6 274.6 434.4 276.2 L414 285.6 Q408 287.6 402.6 284.2 Z" fill="#d5e6f5" stroke="#27394f" stroke-width="0.7" stroke-linecap="round" stroke-linejoin="round" />
<polygon points="407.6,281.6 414.4,278.8 419.0,280.6 412.2,283.8" fill="#a9c7e6" stroke="#27394f" stroke-width="0.5" stroke-linejoin="round" />
<polygon points="414.4,278.8 420.6,276.2 425.4,278.0 419.0,280.6" fill="#b9a5a0" stroke="#27394f" stroke-width="0.5" stroke-linejoin="round" />
<polygon points="420.6,276.2 425.6,274.2 430.2,275.8 425.4,278.0" fill="#c9a27a" stroke="#27394f" stroke-width="0.5" stroke-linejoin="round" />
<polygon points="423.2,263.6 429.6,261.2 434.6,263.4 434.6,273.6 428.6,276.0 423.2,273.6" fill="#e9f1f8" stroke="#27394f" stroke-width="0.8" stroke-linejoin="round" />
<polyline points="428.6,266.0 428.6,276.0" fill="none" stroke="#27394f" stroke-width="0.6" stroke-linecap="round" stroke-linejoin="round" />
<polyline points="423.2,263.6 428.6,266.0 434.6,263.4" fill="none" stroke="#27394f" stroke-width="0.6" stroke-linecap="round" stroke-linejoin="round" />
<polyline points="429.8,256.2 429.8,262.0" fill="none" stroke="#27394f" stroke-width="0.8" stroke-linecap="round" stroke-linejoin="round" />
<polyline points="439.6,271.4 442.6,270.4" fill="none" stroke="#4a6a8c" stroke-width="0.7" stroke-linecap="round" stroke-linejoin="round" />
<polyline points="441.0,274.6 444.4,273.2" fill="none" stroke="#4a6a8c" stroke-width="0.7" stroke-linecap="round" stroke-linejoin="round" />
<polyline points="443.8,268.6 446.0,267.4" fill="none" stroke="#4a6a8c" stroke-width="0.7" stroke-linecap="round" stroke-linejoin="round" />
<polyline points="400.6,293.4 403.6,293.8" fill="none" stroke="#4a6a8c" stroke-width="0.7" stroke-linecap="round" stroke-linejoin="round" />
<polyline points="418.6,291.6 421.6,290.6" fill="none" stroke="#4a6a8c" stroke-width="0.7" stroke-linecap="round" stroke-linejoin="round" />
<circle cx="452.4" cy="318.6" r="2.3" fill="#33465c" stroke="#27394f" stroke-width="0.6" />
<circle cx="456.6" cy="316.4" r="2.3" fill="#33465c" stroke="#27394f" stroke-width="0.6" />
<circle cx="432.6" cy="327.2" r="2.3" fill="#33465c" stroke="#27394f" stroke-width="0.6" />
<polygon points="437.1,320.4 460.0,308.8 460.0,312.6 437.1,324.4" fill="#3c6cab" stroke="#27394f" stroke-width="0.6" stroke-linejoin="round" />
<polygon points="437.1,310.2 460.0,298.4 460.0,310.2 437.1,322.0" fill="#ee9a4e" stroke="#27394f" stroke-width="0.8" stroke-linejoin="round" />
<polygon points="427.7,305.5 437.1,310.2 437.1,322.0 427.7,317.3" fill="#f3ad62" stroke="#27394f" stroke-width="0.8" stroke-linejoin="round" />
<polygon points="427.7,305.5 451.3,293.6 460.0,298.4 437.1,310.2" fill="#f7be7c" stroke="#27394f" stroke-width="0.8" stroke-linejoin="round" />
<polygon points="419.3,316.6 429.3,321.6 429.3,329.4 419.3,324.6" fill="#4a80c4" stroke="#27394f" stroke-width="0.8" stroke-linejoin="round" />
<polygon points="429.3,321.6 435.0,318.6 435.0,326.2 429.3,329.4" fill="#3a68a8" stroke="#27394f" stroke-width="0.8" stroke-linejoin="round" />
<polygon points="419.3,316.6 424.2,311.4 433.6,315.2 435.0,318.6 429.3,321.6" fill="#5b91d2" stroke="#27394f" stroke-width="0.8" stroke-linejoin="round" />
<polygon points="420.4,318.6 428.2,322.4 428.2,325.4 420.4,321.6" fill="#eaf2f8" stroke="#27394f" stroke-width="0.5" stroke-linejoin="round" />
<circle cx="423.0" cy="328.0" r="2.2" fill="#33465c" stroke="#27394f" stroke-width="0.6" />
<polygon points="400.9,328.7 409.1,333.0 409.1,341.2 400.9,336.9" fill="#e0a869" stroke="#27394f" stroke-width="0.7" stroke-linejoin="round" />
<polygon points="409.1,333.0 417.4,328.7 417.4,336.9 409.1,341.2" fill="#cf9355" stroke="#27394f" stroke-width="0.7" stroke-linejoin="round" />
<polygon points="409.1,324.4 417.4,328.7 409.1,333.0 400.9,328.7" fill="#edc590" stroke="#27394f" stroke-width="0.7" stroke-linejoin="round" />
<polyline points="405.0,326.5 413.3,330.8" fill="none" stroke="#c98a48" stroke-width="1.1199999999999999" stroke-linecap="round" stroke-linejoin="round" />
<polyline points="413.3,330.8 413.3,333.9" fill="none" stroke="#c98a48" stroke-width="1.1199999999999999" stroke-linecap="round" stroke-linejoin="round" />
<path d="M552 242.6 Q553.6 238.6 557.6 236.6 L597 219.6 L616 214.6 Q618.8 219.4 615.8 227.6 L573.6 249.4 Q563.6 252.8 557.8 251.6 Q552.8 248.6 552 242.6 Z" fill="#5a87bf" stroke="#27394f" stroke-width="0.9" stroke-linecap="round" stroke-linejoin="round" />
<path d="M557.8 251.6 Q563.6 252.8 573.6 249.4 L615.8 227.6 Q616.6 225.4 616.8 223.4 L573.6 246.0 Q563.6 249.8 555.6 249.4 Q556.4 250.8 557.8 251.6 Z" fill="#e98a66" stroke="#27394f" stroke-width="0.7" stroke-linecap="round" stroke-linejoin="round" />
<path d="M556.6 240.2 Q559 237.6 563 236 L598 220.8 L613.6 216.8 Q614.4 218.6 613.6 220.6 L574 240.6 Q564.8 244 556.6 240.2 Z" fill="#e4edf6" stroke="#27394f" stroke-width="0.7" stroke-linecap="round" stroke-linejoin="round" />
<polyline points="561.1,231.2 561.1,240.6" fill="none" stroke="#27394f" stroke-width="2.0" stroke-linecap="round" stroke-linejoin="round" />
<polyline points="561.1,231.6 561.1,240.2" fill="none" stroke="#5a87bf" stroke-width="0.9" stroke-linecap="round" stroke-linejoin="round" />
<polygon points="568.1,230.5 576.5,234.7 576.5,239.3 568.1,235.1" fill="#d9ad7c" stroke="#27394f" stroke-width="0.5" stroke-linejoin="round" />
<polygon points="576.5,234.7 599.7,223.4 599.7,228.0 576.5,239.3" fill="#6fa585" stroke="#27394f" stroke-width="0.5" stroke-linejoin="round" />
<polygon points="568.1,230.5 591.3,219.2 599.7,223.4 576.5,234.7" fill="#ecc99a" stroke="#27394f" stroke-width="0.5" stroke-linejoin="round" />
<polyline points="573.9,227.7 582.3,231.9 582.3,236.5" fill="none" stroke="#3d5a4a" stroke-width="0.5" stroke-linecap="round" stroke-linejoin="round" />
<polyline points="579.7,224.8 588.1,229.1 588.1,233.7" fill="none" stroke="#3d5a4a" stroke-width="0.5" stroke-linecap="round" stroke-linejoin="round" />
<polyline points="585.5,222.0 593.9,226.2 593.9,230.8" fill="none" stroke="#3d5a4a" stroke-width="0.5" stroke-linecap="round" stroke-linejoin="round" />
<polyline points="572.3,232.6 595.5,221.3" fill="none" stroke="#8a6a44" stroke-width="0.5" stroke-linecap="round" stroke-linejoin="round" />
<polygon points="593.6,212.4 600.8,209.2 608.8,213.2 608.8,223.6 601.6,226.8 593.6,222.8" fill="#eef3f8" stroke="#27394f" stroke-width="0.8" stroke-linejoin="round" />
<polygon points="592.4,210.6 600.8,206.8 610.0,211.2 601.6,215.0" fill="#f6f9fb" stroke="#27394f" stroke-width="0.8" stroke-linejoin="round" />
<polyline points="601.6,215.0 601.6,226.8" fill="none" stroke="#27394f" stroke-width="0.6" stroke-linecap="round" stroke-linejoin="round" />
<polyline points="595.6,217.2 599.8,219.2" fill="none" stroke="#6b8fb3" stroke-width="1.0" stroke-linecap="round" stroke-linejoin="round" />
<polygon points="605.6,207.4 606.4,219.4 612.0,217.2 612.8,207.4" fill="#e98a5c" stroke="#27394f" stroke-width="0.8" stroke-linejoin="round" />
<ellipse cx="609.2" cy="206.6" rx="3.7" ry="1.9" fill="#33465c" stroke="#27394f" stroke-width="0.6" />
<path d="M584.2 283.2 Q586.6 280.4 590.6 278.8 L625.2 268.2 Q628 270.6 626.4 274.0 Q616 283.2 603 288.0 Q594 290.8 588.8 289.6 Q585 287.4 584.2 283.2 Z" fill="#5a9bd8" stroke="#27394f" stroke-width="0.9" stroke-linecap="round" stroke-linejoin="round" />
<path d="M587.6 282.2 Q590.4 280 593.4 279 L622.4 270 Q623.8 271.8 622.8 273.4 L601.4 283.4 Q594 286 587.6 282.2 Z" fill="#dbe8f4" stroke="#27394f" stroke-width="0.7" stroke-linecap="round" stroke-linejoin="round" />
<polygon points="591.6,279.6 594.9,278.4 600.2,280.6 596.9,281.9" fill="#d97a6a" stroke="#27394f" stroke-width="0.35" stroke-linejoin="round" />
<polygon points="594.9,278.4 598.2,277.1 603.5,279.4 600.2,280.7" fill="#6fa585" stroke="#27394f" stroke-width="0.35" stroke-linejoin="round" />
<polygon points="598.2,277.1 601.5,275.9 606.8,278.1 603.5,279.4" fill="#5f8fc8" stroke="#27394f" stroke-width="0.35" stroke-linejoin="round" />
<polygon points="601.5,275.9 604.8,274.6 610.1,276.9 606.8,278.2" fill="#e5b97a" stroke="#27394f" stroke-width="0.35" stroke-linejoin="round" />
<polygon points="604.8,274.6 608.1,273.4 613.4,275.6 610.1,276.9" fill="#9a7fb8" stroke="#27394f" stroke-width="0.35" stroke-linejoin="round" />
<polygon points="608.1,273.4 611.4,272.1 616.7,274.4 613.4,275.7" fill="#d97a6a" stroke="#27394f" stroke-width="0.35" stroke-linejoin="round" />
<polygon points="611.4,272.1 614.7,270.9 620.0,273.1 616.7,274.4" fill="#6fa585" stroke="#27394f" stroke-width="0.35" stroke-linejoin="round" />
<polygon points="596.8,281.8 620.0,273.0 620.0,275.2 596.8,284.0" fill="#52667c" stroke="#27394f" stroke-width="0.35" stroke-linejoin="round" />
<polygon points="612.0,262.6 617.8,260.2 623.0,262.4 623.0,271.2 617.4,273.6 612.0,271.2" fill="#eef3f8" stroke="#27394f" stroke-width="0.8" stroke-linejoin="round" />
<polyline points="617.4,264.8 617.4,273.6" fill="none" stroke="#27394f" stroke-width="0.6" stroke-linecap="round" stroke-linejoin="round" />
<polyline points="612.0,262.6 617.4,264.8 623.0,262.4" fill="none" stroke="#27394f" stroke-width="0.6" stroke-linecap="round" stroke-linejoin="round" />
<polyline points="628.6,270.4 631.2,268.4" fill="none" stroke="#4a6a8c" stroke-width="0.7" stroke-linecap="round" stroke-linejoin="round" />
<polyline points="606.0,290.6 609.6,289.8" fill="none" stroke="#4a6a8c" stroke-width="0.7" stroke-linecap="round" stroke-linejoin="round" />
<polyline points="612.0,288.8 615.4,287.4" fill="none" stroke="#4a6a8c" stroke-width="0.7" stroke-linecap="round" stroke-linejoin="round" />
<polyline points="586.6,291.4 590.0,291.8" fill="none" stroke="#4a6a8c" stroke-width="0.7" stroke-linecap="round" stroke-linejoin="round" />
<path d="M592 296 Q594.6 293 596 290.8" fill="none" stroke="#9aa9b9" stroke-width="0.8" stroke-linecap="round" stroke-linejoin="round" stroke-dasharray="3 2"/>
<path d="M422.6 292.6 Q424.6 296.6 427.6 300.6" fill="none" stroke="#9aa9b9" stroke-width="0.8" stroke-linecap="round" stroke-linejoin="round" stroke-dasharray="3 2"/>
<circle cx="571.4" cy="316.0" r="2.6" fill="#33465c" stroke="#27394f" stroke-width="0.6" />
<polygon points="568.2,308.6 580.6,314.8 580.6,321.2 568.2,315.0" fill="#ee9a4e" stroke="#27394f" stroke-width="0.8" stroke-linejoin="round" />
<polygon points="580.6,314.8 586.2,312.0 586.2,318.4 580.6,321.2" fill="#d98240" stroke="#27394f" stroke-width="0.8" stroke-linejoin="round" />
<polygon points="572.6,298.2 578.6,295.4 587.4,299.6 587.4,312.4 581.4,315.2 572.6,311.0" fill="#7d97b3" stroke="#27394f" stroke-width="0.8" stroke-linejoin="round" />
<polygon points="572.6,298.2 578.6,295.4 587.4,299.6 581.4,302.4" fill="#a5bace" stroke="#27394f" stroke-width="0.7" stroke-linejoin="round" />
<polyline points="581.4,302.4 581.4,315.2" fill="none" stroke="#27394f" stroke-width="0.6" stroke-linecap="round" stroke-linejoin="round" />
<polyline points="591.4,300.4 591.4,318.6" fill="none" stroke="#27394f" stroke-width="2.4" stroke-linecap="round" stroke-linejoin="round" />
<polyline points="591.4,300.8 591.4,318.2" fill="none" stroke="#5f7892" stroke-width="1.2" stroke-linecap="round" stroke-linejoin="round" />
<polygon points="586.2,311.6 593.6,315.5 593.6,322.4 586.2,318.6" fill="#e0a869" stroke="#27394f" stroke-width="0.6" stroke-linejoin="round" />
<polygon points="593.6,315.5 601.0,311.6 601.0,318.6 593.6,322.4" fill="#cf9355" stroke="#27394f" stroke-width="0.6" stroke-linejoin="round" />
<polygon points="593.6,307.8 601.0,311.6 593.6,315.5 586.2,311.6" fill="#edc590" stroke="#27394f" stroke-width="0.6" stroke-linejoin="round" />
<polyline points="589.9,309.7 597.3,313.6" fill="none" stroke="#c98a48" stroke-width="0.96" stroke-linecap="round" stroke-linejoin="round" />
<polyline points="597.3,313.6 597.3,316.2" fill="none" stroke="#c98a48" stroke-width="0.96" stroke-linecap="round" stroke-linejoin="round" />
<circle cx="580.2" cy="322.6" r="2.9" fill="#33465c" stroke="#27394f" stroke-width="0.6" />
<polyline points="586.0,324.2 596.0,328.6" fill="none" stroke="#44566b" stroke-width="1.3" stroke-linecap="round" stroke-linejoin="round" />
<polyline points="592.0,321.6 602.0,326.0" fill="none" stroke="#44566b" stroke-width="1.3" stroke-linecap="round" stroke-linejoin="round" />
<polygon points="608.0,328.5 615.8,332.5 615.8,341.8 608.0,337.7" fill="#e0a869" stroke="#27394f" stroke-width="0.7" stroke-linejoin="round" />
<polygon points="615.8,332.5 623.6,328.5 623.6,337.7 615.8,341.8" fill="#cf9355" stroke="#27394f" stroke-width="0.7" stroke-linejoin="round" />
<polygon points="615.8,324.4 623.6,328.5 615.8,332.5 608.0,328.5" fill="#edc590" stroke="#27394f" stroke-width="0.7" stroke-linejoin="round" />
<polyline points="611.9,326.4 619.7,330.5" fill="none" stroke="#c98a48" stroke-width="1.1199999999999999" stroke-linecap="round" stroke-linejoin="round" />
<polyline points="619.7,330.5 619.7,333.6" fill="none" stroke="#c98a48" stroke-width="1.1199999999999999" stroke-linecap="round" stroke-linejoin="round" />
</g>
</g>
<g id="ill-roz">
<defs>
<linearGradient id="gLW" x1="0" y1="1" x2="1" y2="0"><stop offset="0" stop-color="#93c8d8"/><stop offset="0.5" stop-color="#b9dce6"/><stop offset="1" stop-color="#dbedf2"/></linearGradient>
<linearGradient id="gRW" x1="0" y1="0" x2="1" y2="1"><stop offset="0" stop-color="#bfdfe9"/><stop offset="1" stop-color="#d3e9f0"/></linearGradient>
<linearGradient id="gFL" x1="0" y1="0" x2="0" y2="1"><stop offset="0" stop-color="#e3eef3"/><stop offset="0.5" stop-color="#f3f7f9"/><stop offset="1" stop-color="#f7f9fa"/></linearGradient>
</defs>
<polygon points="723.4,303.2 819.5,258.4 915.6,303.6 819.3,350.8" fill="url(#gFL)" stroke="#27394f" stroke-width="0.9" stroke-linejoin="round" />
<polygon points="727.4,246.8 819.5,205.8 819.5,258.4 727.4,305.0" fill="url(#gLW)" stroke="#27394f" stroke-width="0.8" stroke-linejoin="round" />
<polygon points="819.5,205.8 912.0,248.2 912.0,305.2 819.5,258.4" fill="url(#gRW)" stroke="#27394f" stroke-width="0.8" stroke-linejoin="round" />
<polygon points="723.4,246.4 727.4,248.3 727.4,305.0 723.4,303.2" fill="#d7eaf0" stroke="#27394f" stroke-width="0.8" stroke-linejoin="round" />
<polygon points="912.0,248.2 915.6,246.4 915.6,303.6 912.0,305.2" fill="#b9d6e3" stroke="#27394f" stroke-width="0.8" stroke-linejoin="round" />
<polygon points="723.4,246.4 819.5,202.4 915.6,246.4 912.0,248.2 819.5,206.0 727.4,248.3" fill="#eaf4f7" stroke="#27394f" stroke-width="0.9" stroke-linejoin="round" />
<polyline points="819.5,206.0 819.5,258.4" fill="none" stroke="#27394f" stroke-width="0.8" stroke-linecap="round" stroke-linejoin="round" />
<polygon points="865.7,234.6 904.5,253.4 904.5,286.2 865.7,267.2" fill="#edf6f9" stroke="#27394f" stroke-width="0.9" stroke-linejoin="round" />
<polyline points="878.0,243.6 888.6,272.4" fill="none" stroke="#ffffff" stroke-width="2.0" stroke-linecap="round" stroke-linejoin="round" />
<polyline points="884.0,246.6 894.6,275.4" fill="none" stroke="#ffffff" stroke-width="1.0" stroke-linecap="round" stroke-linejoin="round" />
<polygon points="829.5,221.6 850.7,231.7 850.7,247.1 829.5,237.1" fill="#e6f5ea" stroke="#3f9c6d" stroke-width="1.0" stroke-linejoin="round" />
<polyline points="832.0,226.6 838.4,229.6" fill="none" stroke="#58b386" stroke-width="0.9" stroke-linecap="round" stroke-linejoin="round" />
<polyline points="832.0,229.3 841.6,233.9" fill="none" stroke="#58b386" stroke-width="0.9" stroke-linecap="round" stroke-linejoin="round" />
<polyline points="832.0,232.0 839.2,235.4" fill="none" stroke="#58b386" stroke-width="0.9" stroke-linecap="round" stroke-linejoin="round" />
<polyline points="832.0,234.7 840.8,238.9" fill="none" stroke="#58b386" stroke-width="0.9" stroke-linecap="round" stroke-linejoin="round" />
<polyline points="845.0,241.4 845.0,239.0" fill="none" stroke="#3f9c6d" stroke-width="1.2" stroke-linecap="round" stroke-linejoin="round" />
<polyline points="846.7,242.2 846.7,237.8" fill="none" stroke="#3f9c6d" stroke-width="1.2" stroke-linecap="round" stroke-linejoin="round" />
<polyline points="848.4,243.0 848.4,236.4" fill="none" stroke="#3f9c6d" stroke-width="1.2" stroke-linecap="round" stroke-linejoin="round" />
<polygon points="813.4,256.6 825.0,256.6 823.6,266.4 819.2,268.0 814.8,266.4" fill="#f2f5f7" stroke="#27394f" stroke-width="0.8" stroke-linejoin="round" />
<ellipse cx="819.2" cy="256.8" rx="5.8" ry="1.8" fill="#e3e9ee" stroke="#27394f" stroke-width="0.7" />
<polyline points="819.2,257.0 819.2,252.0" fill="none" stroke="#3a6a4c" stroke-width="1.0" stroke-linecap="round" stroke-linejoin="round" />
<ellipse cx="819.0" cy="246.4" rx="6.2" ry="9.6" fill="#3fa56e" stroke="#27394f" stroke-width="0.9" />
<path d="M815.4 244 Q817 239.6 820 239.4" fill="none" stroke="#7fd0a2" stroke-width="1.2" stroke-linecap="round" stroke-linejoin="round" />
<polygon points="737.6,251.8 796.0,223.4 796.0,272.2 737.6,300.6" fill="#c5d8e4" stroke="#27394f" stroke-width="0.8" stroke-linejoin="round" />
<polygon points="736.0,252.6 737.6,251.8 737.6,300.6 736.0,301.4" fill="#8fa9bd" stroke="#27394f" stroke-width="0.7" stroke-linejoin="round" />
<polyline points="766.8,237.6 766.8,286.4" fill="none" stroke="#5f7a92" stroke-width="1.0" stroke-linecap="round" stroke-linejoin="round" />
<polyline points="796.0,223.4 796.0,272.2" fill="none" stroke="#5f7a92" stroke-width="1.2" stroke-linecap="round" stroke-linejoin="round" />
<polygon points="736.8,259.3 799.2,233.9 799.2,237.1 736.8,262.5" fill="#a9c0d0" stroke="none" stroke-width="0" stroke-linejoin="round" />
<polygon points="743.4,262.6 805.8,237.2 799.2,233.9 736.8,259.3" fill="#f4f7f9" stroke="#27394f" stroke-width="0.7" stroke-linejoin="round" />
<polygon points="743.4,262.6 805.8,237.2 805.8,239.4 743.4,264.8" fill="#cfdbe4" stroke="#27394f" stroke-width="0.7" stroke-linejoin="round" />
<polyline points="774.6,249.9 768.0,246.6" fill="none" stroke="#27394f" stroke-width="0.6" stroke-linecap="round" stroke-linejoin="round" />
<polyline points="774.6,249.9 774.6,252.1" fill="none" stroke="#27394f" stroke-width="0.6" stroke-linecap="round" stroke-linejoin="round" />
<polygon points="746.4,250.1 751.2,252.6 751.2,258.8 746.4,256.3" fill="#e0a869" stroke="#27394f" stroke-width="0.55" stroke-linejoin="round" />
<polygon points="751.2,252.6 756.0,250.1 756.0,256.3 751.2,258.8" fill="#cf9355" stroke="#27394f" stroke-width="0.55" stroke-linejoin="round" />
<polygon points="751.2,247.6 756.0,250.1 751.2,252.6 746.4,250.1" fill="#edc590" stroke="#27394f" stroke-width="0.55" stroke-linejoin="round" />
<polygon points="757.2,245.2 762.6,248.0 762.6,253.6 757.2,250.8" fill="#e0a869" stroke="#27394f" stroke-width="0.55" stroke-linejoin="round" />
<polygon points="762.6,248.0 768.0,245.2 768.0,250.8 762.6,253.6" fill="#cf9355" stroke="#27394f" stroke-width="0.55" stroke-linejoin="round" />
<polygon points="762.6,242.4 768.0,245.2 762.6,248.0 757.2,245.2" fill="#edc590" stroke="#27394f" stroke-width="0.55" stroke-linejoin="round" />
<polygon points="736.8,272.7 799.2,247.1 799.2,250.3 736.8,275.9" fill="#a9c0d0" stroke="none" stroke-width="0" stroke-linejoin="round" />
<polygon points="743.4,276.0 805.8,250.4 799.2,247.1 736.8,272.7" fill="#f4f7f9" stroke="#27394f" stroke-width="0.7" stroke-linejoin="round" />
<polygon points="743.4,276.0 805.8,250.4 805.8,252.6 743.4,278.2" fill="#cfdbe4" stroke="#27394f" stroke-width="0.7" stroke-linejoin="round" />
<polyline points="774.6,263.2 768.0,259.9" fill="none" stroke="#27394f" stroke-width="0.6" stroke-linecap="round" stroke-linejoin="round" />
<polyline points="774.6,263.2 774.6,265.4" fill="none" stroke="#27394f" stroke-width="0.6" stroke-linecap="round" stroke-linejoin="round" />
<polygon points="747.6,263.8 753.0,266.6 753.0,272.4 747.6,269.6" fill="#e0a869" stroke="#27394f" stroke-width="0.55" stroke-linejoin="round" />
<polygon points="753.0,266.6 758.4,263.8 758.4,269.6 753.0,272.4" fill="#cf9355" stroke="#27394f" stroke-width="0.55" stroke-linejoin="round" />
<polygon points="753.0,261.0 758.4,263.8 753.0,266.6 747.6,263.8" fill="#edc590" stroke="#27394f" stroke-width="0.55" stroke-linejoin="round" />
<polygon points="759.8,259.2 764.0,261.4 764.0,267.0 759.8,264.8" fill="#e0a869" stroke="#27394f" stroke-width="0.55" stroke-linejoin="round" />
<polygon points="764.0,261.4 768.2,259.2 768.2,264.8 764.0,267.0" fill="#cf9355" stroke="#27394f" stroke-width="0.55" stroke-linejoin="round" />
<polygon points="764.0,257.0 768.2,259.2 764.0,261.4 759.8,259.2" fill="#edc590" stroke="#27394f" stroke-width="0.55" stroke-linejoin="round" />
<polygon points="778.8,262.0 784.2,264.8 784.2,270.4 778.8,267.6" fill="#e0a869" stroke="#27394f" stroke-width="0.55" stroke-linejoin="round" />
<polygon points="784.2,264.8 789.6,262.0 789.6,267.6 784.2,270.4" fill="#cf9355" stroke="#27394f" stroke-width="0.55" stroke-linejoin="round" />
<polygon points="784.2,259.2 789.6,262.0 784.2,264.8 778.8,262.0" fill="#edc590" stroke="#27394f" stroke-width="0.55" stroke-linejoin="round" />
<polygon points="789.8,257.7 793.9,259.9 793.9,266.0 789.8,263.9" fill="#e0a869" stroke="#27394f" stroke-width="0.55" stroke-linejoin="round" />
<polygon points="793.9,259.9 798.0,257.7 798.0,263.9 793.9,266.0" fill="#cf9355" stroke="#27394f" stroke-width="0.55" stroke-linejoin="round" />
<polygon points="793.9,255.6 798.0,257.7 793.9,259.9 789.8,257.7" fill="#edc590" stroke="#27394f" stroke-width="0.55" stroke-linejoin="round" />
<polygon points="736.8,286.1 799.2,260.5 799.2,263.7 736.8,289.3" fill="#a9c0d0" stroke="none" stroke-width="0" stroke-linejoin="round" />
<polygon points="743.4,289.4 805.8,263.8 799.2,260.5 736.8,286.1" fill="#f4f7f9" stroke="#27394f" stroke-width="0.7" stroke-linejoin="round" />
<polygon points="743.4,289.4 805.8,263.8 805.8,266.0 743.4,291.6" fill="#cfdbe4" stroke="#27394f" stroke-width="0.7" stroke-linejoin="round" />
<polyline points="774.6,276.6 768.0,273.3" fill="none" stroke="#27394f" stroke-width="0.6" stroke-linecap="round" stroke-linejoin="round" />
<polyline points="774.6,276.6 774.6,278.8" fill="none" stroke="#27394f" stroke-width="0.6" stroke-linecap="round" stroke-linejoin="round" />
<polygon points="750.4,277.3 755.5,279.9 755.5,284.8 750.4,282.1" fill="#e0a869" stroke="#27394f" stroke-width="0.55" stroke-linejoin="round" />
<polygon points="755.5,279.9 760.6,277.3 760.6,282.1 755.5,284.8" fill="#cf9355" stroke="#27394f" stroke-width="0.55" stroke-linejoin="round" />
<polygon points="755.5,274.6 760.6,277.3 755.5,279.9 750.4,277.3" fill="#edc590" stroke="#27394f" stroke-width="0.55" stroke-linejoin="round" />
<polygon points="736.8,297.5 799.2,271.9 799.2,275.1 736.8,300.7" fill="#a9c0d0" stroke="none" stroke-width="0" stroke-linejoin="round" />
<polygon points="743.4,300.8 805.8,275.2 799.2,271.9 736.8,297.5" fill="#f4f7f9" stroke="#27394f" stroke-width="0.7" stroke-linejoin="round" />
<polygon points="743.4,300.8 805.8,275.2 805.8,277.4 743.4,303.0" fill="#cfdbe4" stroke="#27394f" stroke-width="0.7" stroke-linejoin="round" />
<polyline points="774.6,288.0 768.0,284.7" fill="none" stroke="#27394f" stroke-width="0.6" stroke-linecap="round" stroke-linejoin="round" />
<polyline points="774.6,288.0 774.6,290.2" fill="none" stroke="#27394f" stroke-width="0.6" stroke-linecap="round" stroke-linejoin="round" />
<polygon points="829.0,286.2 864.3,302.6 864.3,321.4 829.0,303.8" fill="#6bb5d1" stroke="#27394f" stroke-width="0.9" stroke-linejoin="round" />
<polygon points="864.3,302.6 879.4,295.6 879.4,313.4 864.3,321.4" fill="#4799c3" stroke="#27394f" stroke-width="0.9" stroke-linejoin="round" />
<polygon points="826.2,282.6 843.6,274.4 882.2,293.0 864.4,301.6" fill="#f1f5f8" stroke="#27394f" stroke-width="0.9" stroke-linejoin="round" />
<polygon points="826.2,282.6 864.4,301.6 864.4,303.8 826.2,284.8" fill="#d5e0e8" stroke="#27394f" stroke-width="0.7" stroke-linejoin="round" />
<polygon points="864.4,301.6 882.2,293.0 882.2,295.2 864.4,303.8" fill="#c3d1dc" stroke="#27394f" stroke-width="0.7" stroke-linejoin="round" />
<path d="M860.4 287.6 V270.6 Q860.4 265.6 864.4 264.6 L870.6 264.2 Q876.4 265.6 876.6 270.6 V287.2 L868.6 290.6 Z" fill="#f5f7f8" stroke="#27394f" stroke-width="0.8" stroke-linecap="round" stroke-linejoin="round" />
<path d="M863.8 288.8 V268.4 L866 265.2 H870 L872.4 268.4 V289.6 L868.6 290.6 Z" fill="#4db377" stroke="#27394f" stroke-width="0.8" stroke-linecap="round" stroke-linejoin="round" />
<polyline points="860.6,272.6 855.6,278.6 851.6,279.6" fill="none" stroke="#27394f" stroke-width="2.6" stroke-linecap="round" stroke-linejoin="round" />
<polyline points="860.6,272.6 855.6,278.6 851.6,279.6" fill="none" stroke="#f5f7f8" stroke-width="1.5" stroke-linecap="round" stroke-linejoin="round" />
<path d="M863.2 261.8 Q862.2 253.6 867.8 253.6 Q873.4 253.6 872.6 262.6 Q872.2 264.6 870.6 264.8 H865 Q863.4 264.6 863.2 261.8 Z" fill="#7a4a32" stroke="#27394f" stroke-width="0.8" stroke-linecap="round" stroke-linejoin="round" />
<ellipse cx="867.4" cy="259.6" rx="3.0" ry="3.6" fill="#eaae78" stroke="#27394f" stroke-width="0.6" />
<path d="M864.4 258.2 Q867 255 870.6 258.2 Q868 256.8 864.4 258.2 Z" fill="#7a4a32" stroke="#7a4a32" stroke-width="0.5" stroke-linecap="round" stroke-linejoin="round" />
<polygon points="835.6,280.6 846.6,276.0 860.0,282.4 849.0,287.4" fill="#3e5872" stroke="#27394f" stroke-width="0.8" stroke-linejoin="round" />
<polygon points="835.6,280.6 849.0,287.4 849.0,289.6 835.6,282.8" fill="#2f445a" stroke="#27394f" stroke-width="0.6" stroke-linejoin="round" />
<polygon points="843.6,276.4 847.6,278.4 847.6,283.6 843.6,281.6" fill="#4a6785" stroke="#27394f" stroke-width="0.6" stroke-linejoin="round" />
<polygon points="837.2,264.2 853.4,271.2 853.4,283.4 837.2,276.0" fill="#3b526b" stroke="#27394f" stroke-width="0.9" stroke-linejoin="round" />
<polygon points="837.2,264.2 838.8,263.4 855.0,270.4 853.4,271.2" fill="#6f8aa6" stroke="#27394f" stroke-width="0.6" stroke-linejoin="round" />
<path d="M783.0 304.6 L784.2 326.2 L787.6 327.4 L788.6 310 L790.6 328.6 L794.4 329.2 L795.2 304.6 Z" fill="#3f6fb5" stroke="#27394f" stroke-width="0.8" stroke-linecap="round" stroke-linejoin="round" />
<path d="M783.6 327 L787.8 327.2 L788.4 329.2 L783.2 328.6 Z" fill="#2c3e55" stroke="#27394f" stroke-width="0.5" stroke-linecap="round" stroke-linejoin="round" />
<path d="M790.4 328.8 L794.6 329.2 L796.6 331 L790.2 330.6 Z" fill="#2c3e55" stroke="#27394f" stroke-width="0.5" stroke-linecap="round" stroke-linejoin="round" />
<path d="M780.4 291.6 Q780.6 286.4 786 285.8 H790.6 Q796 286.6 796.4 292 L796.6 305.4 Q788.6 308 780.8 304.6 Z" fill="#45ae75" stroke="#27394f" stroke-width="0.8" stroke-linecap="round" stroke-linejoin="round" />
<polyline points="794.6,290.6 797.6,297.6 802.6,296.4" fill="none" stroke="#27394f" stroke-width="3.2" stroke-linecap="round" stroke-linejoin="round" />
<polyline points="794.6,290.6 797.6,297.6 802.6,296.4" fill="none" stroke="#45ae75" stroke-width="2.0" stroke-linecap="round" stroke-linejoin="round" />
<circle cx="803.6" cy="296.2" r="1.3" fill="#eaae78" stroke="#27394f" stroke-width="0.5" />
<circle cx="787.8" cy="279.6" r="4.0" fill="#2f3f52" stroke="#27394f" stroke-width="0.8" />
<path d="M789 277.8 Q792.2 278 792 281.6 Q791 283.6 788.6 283.4 Q790 280.6 789 277.8 Z" fill="#c98a5a" stroke="#27394f" stroke-width="0.4" stroke-linecap="round" stroke-linejoin="round" />
<polygon points="795.4,294.9 800.2,297.4 800.2,303.4 795.4,300.9" fill="#e0a869" stroke="#27394f" stroke-width="0.55" stroke-linejoin="round" />
<polygon points="800.2,297.4 805.0,294.9 805.0,300.9 800.2,303.4" fill="#cf9355" stroke="#27394f" stroke-width="0.55" stroke-linejoin="round" />
<polygon points="800.2,292.4 805.0,294.9 800.2,297.4 795.4,294.9" fill="#edc590" stroke="#27394f" stroke-width="0.55" stroke-linejoin="round" />
<polygon points="799.6,293.6 803.6,292.4 804.6,299.6 800.6,300.8" fill="#f5f7f8" stroke="#27394f" stroke-width="0.5" stroke-linejoin="round" />
<polygon points="795.8,308.2 807.7,314.4 807.7,330.8 795.8,324.6" fill="#dcae7a" stroke="#27394f" stroke-width="0.7" stroke-linejoin="round" />
<polygon points="807.7,314.4 819.6,308.2 819.6,324.6 807.7,330.8" fill="#c99762" stroke="#27394f" stroke-width="0.7" stroke-linejoin="round" />
<polygon points="807.7,302.0 819.6,308.2 807.7,314.4 795.8,308.2" fill="#c29a6a" stroke="#27394f" stroke-width="0.7" stroke-linejoin="round" />
<polygon points="807.6,316.8 817.6,312.0 817.6,318.6 807.6,323.4" fill="#f5f7f8" stroke="#27394f" stroke-width="0.5" stroke-linejoin="round" />
<polygon points="809.4,319.6 813.6,317.6 814.6,320.0 811.0,321.8" fill="#b98548" stroke="#27394f" stroke-width="0.3" stroke-linejoin="round" />
</g>

<!-- ===== PILLS ===== -->
<rect x="139" y="163.9" width="153.8" height="30.4" rx="15.2" fill="#ee9247"/>
<rect x="434" y="164.0" width="155.2" height="30.4" rx="15.2" fill="#4a92cb"/>
<rect x="743" y="164.0" width="154.8" height="30.4" rx="15.2" fill="#4eb487"/>
<g class="b" font-size="15.7" style="fill:#fff">
<text x="174" y="185.3" textLength="83.5" lengthAdjust="spacingAndGlyphs" style="fill:#fdf6ee">ЗАКУПКИ</text>
<text x="458" y="185.3" textLength="107.7" lengthAdjust="spacingAndGlyphs" style="fill:#f4f9fd">ЛОГИСТИКА</text>
<text x="776.7" y="185.3" textLength="87.3" lengthAdjust="spacingAndGlyphs" style="fill:#f2fbf6">РОЗНИЦА</text>
</g>

<!-- ===== CIRCLES ===== -->
<g fill="#fdfbf7" stroke-width="2.2">
<g stroke="#ea9f60">
<circle cx="149.3" cy="367.7" r="26.2"/><circle cx="216.2" cy="367.7" r="26.2"/><circle cx="283" cy="367.7" r="26.2"/>
</g>
<g stroke="#4d8cc2">
<circle cx="447.5" cy="367.7" r="26.2"/><circle cx="514" cy="367.7" r="26.2"/><circle cx="580.4" cy="367.7" r="26.2"/>
</g>
<g stroke="#59b48a">
<circle cx="752.3" cy="367.7" r="26.2"/><circle cx="819.4" cy="367.7" r="26.2"/><circle cx="886.5" cy="367.7" r="26.2"/>
<circle cx="948.5" cy="274.4" r="27.6"/>
</g>
</g>
<g id="cicons">
<g transform="translate(157.6,359.6) rotate(-48)"><rect x="-8.5" y="-4.8" width="17" height="9.6" rx="4.8" fill="none" stroke="#27394f" stroke-width="4.6"/><rect x="-8.5" y="-4.8" width="17" height="9.6" rx="4.8" fill="none" stroke="#4b8fcb" stroke-width="3.1"/></g>
<g transform="translate(141.4,377.4) rotate(-48)"><rect x="-8.5" y="-4.8" width="17" height="9.6" rx="4.8" fill="none" stroke="#27394f" stroke-width="4.6"/><rect x="-8.5" y="-4.8" width="17" height="9.6" rx="4.8" fill="none" stroke="#4b8fcb" stroke-width="3.1"/></g>
<polyline points="145.4,372.8 153.2,364.2" fill="none" stroke="#27394f" stroke-width="4.0" stroke-linecap="round" stroke-linejoin="round" />
<polyline points="145.4,372.8 153.2,364.2" fill="none" stroke="#efb676" stroke-width="2.6" stroke-linecap="round" stroke-linejoin="round" />
<polyline points="139.0,357.0 141.6,359.4" fill="none" stroke="#3a4b60" stroke-width="0.9" stroke-linecap="round" stroke-linejoin="round" />
<polyline points="143.8,355.6 144.4,358.8" fill="none" stroke="#3a4b60" stroke-width="0.9" stroke-linecap="round" stroke-linejoin="round" />
<polyline points="137.2,362.6 140.6,362.8" fill="none" stroke="#3a4b60" stroke-width="0.9" stroke-linecap="round" stroke-linejoin="round" />
<polyline points="157.8,374.0 161.0,374.6" fill="none" stroke="#3a4b60" stroke-width="0.9" stroke-linecap="round" stroke-linejoin="round" />
<polyline points="155.4,377.6 158.6,380.6" fill="none" stroke="#3a4b60" stroke-width="0.9" stroke-linecap="round" stroke-linejoin="round" />
<polyline points="153.0,378.6 154.0,381.6" fill="none" stroke="#3a4b60" stroke-width="0.9" stroke-linecap="round" stroke-linejoin="round" />
<polygon points="199.8,362.6 216.6,370.6 216.6,386.0 199.8,377.6" fill="#e9b673" stroke="#27394f" stroke-width="0.8" stroke-linejoin="round" />
<polygon points="216.6,370.6 233.4,362.6 233.4,377.6 216.6,386.0" fill="#d9a05c" stroke="#27394f" stroke-width="0.8" stroke-linejoin="round" />
<polygon points="199.8,362.6 216.6,355.4 233.4,362.6 216.6,370.6" fill="#b98548" stroke="#27394f" stroke-width="0.8" stroke-linejoin="round" />
<polygon points="199.8,362.6 216.6,370.6 212.4,374.6 196.6,366.6" fill="#f2cb94" stroke="#27394f" stroke-width="0.8" stroke-linejoin="round" />
<polygon points="216.6,370.6 233.4,362.6 237.0,366.4 221.0,374.6" fill="#f2cb94" stroke="#27394f" stroke-width="0.8" stroke-linejoin="round" />
<polygon points="199.8,362.6 216.6,355.4 213.6,351.4 197.4,358.4" fill="#e9b673" stroke="#27394f" stroke-width="0.8" stroke-linejoin="round" />
<polygon points="216.6,355.4 233.4,362.6 236.0,358.4 219.6,351.4" fill="#e9b673" stroke="#27394f" stroke-width="0.8" stroke-linejoin="round" />
<path d="M212.6 364.6 V355.4 A4 4 0 0 1 220.6 355.4 V364.6 Z" fill="#bfe0f2" stroke="#8fc0dc" stroke-width="0.6" stroke-linecap="round" stroke-linejoin="round" fill-opacity="0.9"/>
<polyline points="269.4,350.6 269.4,376.0" fill="none" stroke="#27394f" stroke-width="2.8" stroke-linecap="round" stroke-linejoin="round" />
<polyline points="269.4,350.6 269.4,376.0" fill="none" stroke="#7f9ab8" stroke-width="1.6" stroke-linecap="round" stroke-linejoin="round" />
<polyline points="274.8,348.2 274.8,371.6" fill="none" stroke="#27394f" stroke-width="2.6" stroke-linecap="round" stroke-linejoin="round" />
<polyline points="274.8,348.2 274.8,371.6" fill="none" stroke="#8ea8c4" stroke-width="1.4" stroke-linecap="round" stroke-linejoin="round" />
<polygon points="269.4,359.2 274.8,356.6 295.2,366.8 289.8,369.6" fill="#f2a070" stroke="#27394f" stroke-width="0.7" stroke-linejoin="round" />
<polygon points="269.4,359.2 289.8,369.6 289.8,372.0 269.4,361.6" fill="#e07a48" stroke="#27394f" stroke-width="0.7" stroke-linejoin="round" />
<polygon points="269.4,370.2 274.8,367.6 295.2,377.8 289.8,380.6" fill="#f2a070" stroke="#27394f" stroke-width="0.7" stroke-linejoin="round" />
<polygon points="269.4,370.2 289.8,380.6 289.8,383.0 269.4,372.6" fill="#e07a48" stroke="#27394f" stroke-width="0.7" stroke-linejoin="round" />
<polyline points="289.8,360.6 289.8,387.6" fill="none" stroke="#27394f" stroke-width="2.8" stroke-linecap="round" stroke-linejoin="round" />
<polyline points="289.8,360.6 289.8,387.6" fill="none" stroke="#7f9ab8" stroke-width="1.6" stroke-linecap="round" stroke-linejoin="round" />
<polyline points="295.2,357.0 295.2,382.2" fill="none" stroke="#27394f" stroke-width="2.6" stroke-linecap="round" stroke-linejoin="round" />
<polyline points="295.2,357.0 295.2,382.2" fill="none" stroke="#8ea8c4" stroke-width="1.4" stroke-linecap="round" stroke-linejoin="round" />
<circle cx="447.2" cy="367.2" r="15.2" fill="#f6f8fa" stroke="#27394f" stroke-width="4.6" />
<circle cx="447.2" cy="367.2" r="15.2" fill="none" stroke="#4d88c4" stroke-width="3.0" />
<polyline points="447.2,356.6 447.2,355.2" fill="none" stroke="#44566b" stroke-width="0.8" stroke-linecap="round" stroke-linejoin="round" />
<polyline points="452.5,358.0 453.2,356.8" fill="none" stroke="#44566b" stroke-width="0.8" stroke-linecap="round" stroke-linejoin="round" />
<polyline points="456.4,361.9 457.6,361.2" fill="none" stroke="#44566b" stroke-width="0.8" stroke-linecap="round" stroke-linejoin="round" />
<polyline points="457.8,367.2 459.2,367.2" fill="none" stroke="#44566b" stroke-width="0.8" stroke-linecap="round" stroke-linejoin="round" />
<polyline points="456.4,372.5 457.6,373.2" fill="none" stroke="#44566b" stroke-width="0.8" stroke-linecap="round" stroke-linejoin="round" />
<polyline points="452.5,376.4 453.2,377.6" fill="none" stroke="#44566b" stroke-width="0.8" stroke-linecap="round" stroke-linejoin="round" />
<polyline points="447.2,377.8 447.2,379.2" fill="none" stroke="#44566b" stroke-width="0.8" stroke-linecap="round" stroke-linejoin="round" />
<polyline points="441.9,376.4 441.2,377.6" fill="none" stroke="#44566b" stroke-width="0.8" stroke-linecap="round" stroke-linejoin="round" />
<polyline points="438.0,372.5 436.8,373.2" fill="none" stroke="#44566b" stroke-width="0.8" stroke-linecap="round" stroke-linejoin="round" />
<polyline points="436.6,367.2 435.2,367.2" fill="none" stroke="#44566b" stroke-width="0.8" stroke-linecap="round" stroke-linejoin="round" />
<polyline points="438.0,361.9 436.8,361.2" fill="none" stroke="#44566b" stroke-width="0.8" stroke-linecap="round" stroke-linejoin="round" />
<polyline points="441.9,358.0 441.2,356.8" fill="none" stroke="#44566b" stroke-width="0.8" stroke-linecap="round" stroke-linejoin="round" />
<polyline points="447.0,358.2 447.0,367.4 452.2,372.2" fill="none" stroke="#2c3e55" stroke-width="1.3" stroke-linecap="round" stroke-linejoin="round" />
<circle cx="458.6" cy="378.2" r="6.6" fill="#e9524b" stroke="#27394f" stroke-width="0.9" />
<polyline points="458.6,374.4 458.6,379.2" fill="none" stroke="#fff" stroke-width="1.5" stroke-linecap="round" stroke-linejoin="round" />
<circle cx="458.6" cy="381.6" r="0.8" fill="#fff" stroke="none" stroke-width="0" />
<polyline points="493.6,361.4 497.6,361.4" fill="none" stroke="#44566b" stroke-width="0.8" stroke-linecap="round" stroke-linejoin="round" />
<polyline points="493.6,364.2 497.6,364.2" fill="none" stroke="#44566b" stroke-width="0.8" stroke-linecap="round" stroke-linejoin="round" />
<polyline points="493.6,367.0 497.6,367.0" fill="none" stroke="#44566b" stroke-width="0.8" stroke-linecap="round" stroke-linejoin="round" />
<rect x="498.0" y="355.2" width="11.2" height="17.0" rx="0" fill="#d3e5f3" stroke="none" stroke-width="0" />
<rect x="509.2" y="355.2" width="11.4" height="17.0" rx="0" fill="#edbd76" stroke="none" stroke-width="0" />
<rect x="498.0" y="355.2" width="22.6" height="17.0" rx="0" fill="none" stroke="#27394f" stroke-width="0.9" />
<path d="M520.6 360.6 H527.6 Q530 360.6 531 362.8 L533.6 368.6 V376.6 H520.6 Z" fill="#4a80b8" stroke="#27394f" stroke-width="0.9" stroke-linecap="round" stroke-linejoin="round" />
<path d="M523.4 362.8 H528 L530 367.4 H523.4 Z" fill="#eaf2f8" stroke="#27394f" stroke-width="0.6" stroke-linecap="round" stroke-linejoin="round" />
<rect x="498.0" y="372.2" width="22.6" height="4.4" rx="0" fill="#3e6fa6" stroke="#27394f" stroke-width="0.9" />
<circle cx="504.2" cy="378.0" r="3.6" fill="#33465c" stroke="#27394f" stroke-width="0.8" />
<circle cx="504.2" cy="378.0" r="1.4" fill="#c9d6e1" stroke="#27394f" stroke-width="0.4" />
<circle cx="525.8" cy="378.0" r="3.6" fill="#33465c" stroke="#27394f" stroke-width="0.8" />
<circle cx="525.8" cy="378.0" r="1.4" fill="#c9d6e1" stroke="#27394f" stroke-width="0.4" />
<rect x="589.8" y="360.0" width="10.4" height="8.4" rx="0" fill="#e9b673" stroke="#27394f" stroke-width="0.8" />
<rect x="589.8" y="368.4" width="10.4" height="8.6" rx="0" fill="#e9b673" stroke="#27394f" stroke-width="0.8" />
<polyline points="593.6,360.6 596.6,360.6" fill="none" stroke="#b98548" stroke-width="1.2" stroke-linecap="round" stroke-linejoin="round" />
<polyline points="593.6,369.0 596.6,369.0" fill="none" stroke="#b98548" stroke-width="1.2" stroke-linecap="round" stroke-linejoin="round" />
<polyline points="587.4,354.6 587.4,378.4" fill="none" stroke="#27394f" stroke-width="2.8" stroke-linecap="round" stroke-linejoin="round" />
<polyline points="587.4,355.0 587.4,378.0" fill="none" stroke="#8aa0b8" stroke-width="1.5" stroke-linecap="round" stroke-linejoin="round" />
<polyline points="587.4,378.4 600.6,378.4" fill="none" stroke="#5f7892" stroke-width="1.4" stroke-linecap="round" stroke-linejoin="round" />
<path d="M566.4 367.4 V355.6 H575.4 L582.6 368.4" fill="none" stroke="#27394f" stroke-width="2.0" stroke-linecap="round" stroke-linejoin="round" />
<path d="M566.4 367.4 V355.6 H575.4 L582.6 368.4" fill="none" stroke="#5d8fc4" stroke-width="1.0" stroke-linecap="round" stroke-linejoin="round" />
<path d="M562.6 369.0 Q562.6 366.6 565 366.6 H571 L574 371.6 H584.4 Q586.2 371.6 586.2 373.6 V378.2 H562.6 Z" fill="#ee8a52" stroke="#27394f" stroke-width="0.9" stroke-linecap="round" stroke-linejoin="round" />
<path d="M571.4 364.4 Q574.4 363.8 575.4 367 L576.6 371 H572.6 Z" fill="#3e5f8a" stroke="#27394f" stroke-width="0.6" stroke-linecap="round" stroke-linejoin="round" />
<circle cx="567.6" cy="378.6" r="3.5" fill="#33465c" stroke="#27394f" stroke-width="0.8" />
<circle cx="567.6" cy="378.6" r="1.3" fill="#c9d6e1" stroke="#27394f" stroke-width="0.4" />
<circle cx="581.0" cy="378.6" r="3.5" fill="#33465c" stroke="#27394f" stroke-width="0.8" />
<circle cx="581.0" cy="378.6" r="1.3" fill="#c9d6e1" stroke="#27394f" stroke-width="0.4" />
<polygon points="934.6,258.4 941.4,254.7 941.4,283.2 934.6,287.2" fill="#8199b1" stroke="#27394f" stroke-width="0.7" stroke-linejoin="round" />
<polygon points="930.9,258.4 934.6,258.4 934.6,287.2 930.9,286.0" fill="#9ab5cb" stroke="#27394f" stroke-width="0.7" stroke-linejoin="round" />
<polygon points="930.9,258.4 937.7,254.1 941.4,254.7 934.6,258.4" fill="#bdd2e1" stroke="#27394f" stroke-width="0.7" stroke-linejoin="round" />
<polygon points="934.6,260.2 941.4,256.8 953.2,263.2 953.2,270.0" fill="#dfeaf2" stroke="#27394f" stroke-width="0.6" stroke-linejoin="round" />
<polygon points="934.6,260.2 953.2,270.0 953.2,272.0 934.6,262.2" fill="#a9c0d4" stroke="#27394f" stroke-width="0.6" stroke-linejoin="round" />
<polygon points="934.6,271.6 941.4,268.2 953.2,274.6 953.2,281.4" fill="#dfeaf2" stroke="#27394f" stroke-width="0.6" stroke-linejoin="round" />
<polygon points="934.6,271.6 953.2,281.4 953.2,283.4 934.6,273.6" fill="#a9c0d4" stroke="#27394f" stroke-width="0.6" stroke-linejoin="round" />
<polygon points="934.6,282.7 941.4,279.2 953.2,285.6 953.2,292.5" fill="#dfeaf2" stroke="#27394f" stroke-width="0.6" stroke-linejoin="round" />
<polygon points="934.6,282.7 953.2,292.5 953.2,294.4 934.6,284.6" fill="#a9c0d4" stroke="#27394f" stroke-width="0.6" stroke-linejoin="round" />
<polygon points="953.6,266.4 961.6,262.3 961.6,293.3 953.6,297.6" fill="#bdd2e1" stroke="#27394f" stroke-width="0.7" stroke-linejoin="round" />
<polygon points="952.1,265.7 953.6,266.4 953.6,297.6 952.1,297.0" fill="#8199b1" stroke="#27394f" stroke-width="0.7" stroke-linejoin="round" />
<polygon points="952.1,265.7 960.1,261.7 961.6,262.3 953.6,266.4" fill="#dfeaf2" stroke="#27394f" stroke-width="0.7" stroke-linejoin="round" />
<polygon points="745.6,356.6 758.6,363.3 758.6,376.8 745.6,370.0" fill="#dfa468" stroke="#27394f" stroke-width="0.7" stroke-linejoin="round" />
<polygon points="758.6,363.3 771.6,356.6 771.6,370.0 758.6,376.8" fill="#cc8e52" stroke="#27394f" stroke-width="0.7" stroke-linejoin="round" />
<polygon points="758.6,349.8 771.6,356.6 758.6,363.3 745.6,356.6" fill="#edc28c" stroke="#27394f" stroke-width="0.7" stroke-linejoin="round" />
<polyline points="752.1,353.2 765.1,359.9" fill="none" stroke="#c98a48" stroke-width="1.1199999999999999" stroke-linecap="round" stroke-linejoin="round" />
<polyline points="765.1,359.9 765.1,364.8" fill="none" stroke="#c98a48" stroke-width="1.1199999999999999" stroke-linecap="round" stroke-linejoin="round" />
<path d="M735.2 380.6 Q733.4 376 734 366.6 Q734 364.6 735.6 364.6 Q737 364.6 737.2 366.4 L737.6 371.6 L738 361.4 Q738 359.6 739.6 359.6 Q741.2 359.6 741.2 361.4 L741.6 370 L742.4 360.6 Q742.6 358.8 744.2 359 Q745.6 359.2 745.6 361 L745.4 370.4 L746.8 363.2 Q747.2 361.6 748.6 361.8 Q750 362.2 749.8 363.8 L748.6 374.6 L751.6 371.2 Q753.4 369.8 754.8 371 Q755.6 372 754.6 373.4 L748.6 382.4 Q746 385.4 741.6 385.2 Q737 384.8 735.2 380.6 Z" fill="#f3bd88" stroke="#27394f" stroke-width="0.8" stroke-linecap="round" stroke-linejoin="round" />
<polygon points="806.6,352.5 812.8,349.1 812.8,375.2 806.6,378.9" fill="#6c98c2" stroke="#27394f" stroke-width="0.7" stroke-linejoin="round" />
<polygon points="803.2,352.5 806.6,352.5 806.6,378.9 803.2,377.7" fill="#86aed0" stroke="#27394f" stroke-width="0.7" stroke-linejoin="round" />
<polygon points="803.2,352.5 809.4,348.5 812.8,349.1 806.6,352.5" fill="#aecde6" stroke="#27394f" stroke-width="0.7" stroke-linejoin="round" />
<polygon points="806.6,354.1 812.8,351.0 823.7,356.8 823.7,363.1" fill="#d3e6f4" stroke="#27394f" stroke-width="0.6" stroke-linejoin="round" />
<polygon points="806.6,354.1 823.7,363.1 823.7,364.9 806.6,355.9" fill="#95badb" stroke="#27394f" stroke-width="0.6" stroke-linejoin="round" />
<polygon points="806.6,364.6 812.8,361.4 823.7,367.3 823.7,373.6" fill="#d3e6f4" stroke="#27394f" stroke-width="0.6" stroke-linejoin="round" />
<polygon points="806.6,364.6 823.7,373.6 823.7,375.4 806.6,366.4" fill="#95badb" stroke="#27394f" stroke-width="0.6" stroke-linejoin="round" />
<polygon points="806.6,374.7 812.8,371.6 823.7,377.4 823.7,383.7" fill="#d3e6f4" stroke="#27394f" stroke-width="0.6" stroke-linejoin="round" />
<polygon points="806.6,374.7 823.7,383.7 823.7,385.5 806.6,376.5" fill="#95badb" stroke="#27394f" stroke-width="0.6" stroke-linejoin="round" />
<polygon points="824.0,359.8 831.3,356.0 831.3,384.5 824.0,388.4" fill="#aecde6" stroke="#27394f" stroke-width="0.7" stroke-linejoin="round" />
<polygon points="822.6,359.2 824.0,359.8 824.0,388.4 822.6,387.8" fill="#6c98c2" stroke="#27394f" stroke-width="0.7" stroke-linejoin="round" />
<polygon points="822.6,359.2 829.9,355.5 831.3,356.0 824.0,359.8" fill="#d3e6f4" stroke="#27394f" stroke-width="0.7" stroke-linejoin="round" />
<path d="M816.4 373.4 L827.6 356.6 L836.2 364.8" fill="none" stroke="#33465c" stroke-width="0.7" stroke-linecap="round" stroke-linejoin="round" />
<g transform="translate(826.8,370.2) rotate(-25)"><rect x="-12.4" y="-4.0" width="24.8" height="8.0" rx="0.8" fill="#fbf6ef" stroke="#27394f" stroke-width="0.8" /><text x="0" y="2.2" text-anchor="middle" font-size="5.4" font-weight="bold" style="fill:#ec8b3f;stroke:none">SOLD OUT</text></g>
<polygon points="869.4,359.7 886.5,368.6 886.5,386.4 869.4,377.5" fill="#e0a869" stroke="#27394f" stroke-width="0.8" stroke-linejoin="round" />
<polygon points="886.5,368.6 903.6,359.7 903.6,377.5 886.5,386.4" fill="#cf9355" stroke="#27394f" stroke-width="0.8" stroke-linejoin="round" />
<polygon points="886.5,350.8 903.6,359.7 886.5,368.6 869.4,359.7" fill="#edc590" stroke="#27394f" stroke-width="0.8" stroke-linejoin="round" />
<polyline points="878.0,355.2 895.0,364.1" fill="none" stroke="#c98a48" stroke-width="1.2800000000000002" stroke-linecap="round" stroke-linejoin="round" />
<polyline points="895.0,364.1 895.0,370.5" fill="none" stroke="#c98a48" stroke-width="1.2800000000000002" stroke-linecap="round" stroke-linejoin="round" />
<polygon points="877.6,352.8 882.0,350.9 898.6,359.4 894.6,361.6" fill="#dcc39f" stroke="#27394f" stroke-width="0.5" stroke-linejoin="round" />
<polygon points="894.6,361.6 898.6,359.4 898.6,365.6 894.6,367.8" fill="#dcc39f" stroke="#27394f" stroke-width="0.5" stroke-linejoin="round" />
<polyline points="874.4,371.6 874.4,375.6" fill="none" stroke="#6a4a2a" stroke-width="0.9" stroke-linecap="round" stroke-linejoin="round" />
<polyline points="877.6,373.2 877.6,377.2" fill="none" stroke="#6a4a2a" stroke-width="0.9" stroke-linecap="round" stroke-linejoin="round" />
</g>
<g id="boticons">
<circle cx="387.4" cy="510.2" r="11.6" fill="#fdfdfb" stroke="#27394f" stroke-width="4.8" />
<circle cx="387.4" cy="510.2" r="11.6" fill="none" stroke="#52b68c" stroke-width="3.4" />
<circle cx="387.4" cy="510.2" r="5.2" fill="#52b68c" stroke="#27394f" stroke-width="0.8" />
<circle cx="387.4" cy="510.2" r="2.6" fill="#8fd4b4" stroke="none" stroke-width="0" />
<polyline points="387.4,510.2 399.2,498.4" fill="none" stroke="#2c3e55" stroke-width="1.0" stroke-linecap="round" stroke-linejoin="round" />
<polygon points="398.0,499.6 398.6,495.4 401.6,492.8 401.6,496.2 404.8,496.2 402.2,499.2" fill="#b9583e" stroke="#27394f" stroke-width="0.6" stroke-linejoin="round" />
<polygon points="369.8,525.8 375.6,527.6 370.0,542.4 364.6,540.4" fill="#4a90cc" stroke="#27394f" stroke-width="0.9" stroke-linejoin="round" />
<polygon points="399.4,527.6 405.0,525.8 410.6,540.4 405.0,542.4" fill="#4db383" stroke="#27394f" stroke-width="0.9" stroke-linejoin="round" />
<path d="M374.4 530.2 L383.6 527.8 Q388.6 527.2 392.6 529.6 L400.2 530.2 L404.6 541.4 L401.2 543.4 Q399.6 548.6 395.6 550.6 Q392.6 554.6 388.2 553.6 Q385.6 555.4 383 553.4 Q380.4 553.4 379.4 551 Q376.6 550.4 376.4 547.6 Q373.6 546.6 374 543.6 L370.8 541.2 Z" fill="#f6c29c" stroke="#27394f" stroke-width="0.9" stroke-linecap="round" stroke-linejoin="round" />
<path d="M380.6 535.8 Q383.6 531.2 388.8 531.6 Q391.6 532.8 394.6 532.4" fill="none" stroke="#27394f" stroke-width="0.8" stroke-linecap="round" stroke-linejoin="round" />
<path d="M380.6 535.8 Q380.4 538.6 383 538.2 L388 534.6 L398.6 545.0" fill="none" stroke="#27394f" stroke-width="0.8" stroke-linecap="round" stroke-linejoin="round" />
<path d="M395.6 550.6 L391.2 546.2 M392.0 553.4 L388.2 549.4 M388.2 553.6 L385.2 550.6" fill="none" stroke="#27394f" stroke-width="0.8" stroke-linecap="round" stroke-linejoin="round" />
<path d="M376.4 547.6 Q377.6 544.6 380 545.4 M379.4 551 Q380.4 548 383 548.8 M383 553.4 Q384 551 386 551.6" fill="none" stroke="#27394f" stroke-width="0.8" stroke-linecap="round" stroke-linejoin="round" />
</g>

<!-- ===== COLUMN TEXTS ===== -->
<g text-anchor="start">
<text class="h" x="147.9" y="424.2" font-size="16.2" textLength="135.3" lengthAdjust="spacingAndGlyphs">Ошибка ЗАКУПОК</text>
<text class="body" x="134.4" y="442.7" textLength="164.6" lengthAdjust="spacingAndGlyphs">Поставщик не выполнил захаз</text>
<text class="body" x="124.3" y="455.3" textLength="184.1" lengthAdjust="spacingAndGlyphs">(или выполннл частично), либо на</text>
<text class="body" x="102.2" y="468" textLength="226.5" lengthAdjust="spacingAndGlyphs">распределительном центре был дефицит.</text>

<text class="h" x="434.8" y="424.2" font-size="16.2" textLength="156.2" lengthAdjust="spacingAndGlyphs">Ошибка ЛОГИСТИКИ</text>
<text class="body" x="418.1" y="442.7" textLength="189.2" lengthAdjust="spacingAndGlyphs">Заказ не сформирован по графику,</text>
<text class="body" x="423.9" y="455.3" textLength="177.3" lengthAdjust="spacingAndGlyphs">отгружен складом с опезданием</text>
<text class="body" x="445" y="468" textLength="135.1" lengthAdjust="spacingAndGlyphs">или не в полном объеме.</text>

<text class="h" x="749.7" y="424.2" font-size="16.2" textLength="139.2" lengthAdjust="spacingAndGlyphs">Ошибка РОЗНИЦЫ</text>
<text class="body" x="714.9" y="442.7" textLength="209.5" lengthAdjust="spacingAndGlyphs">Магазин уменьшил/обнулил автозаказ,</text>
<text class="body" x="740.8" y="455.3" textLength="158.7" lengthAdjust="spacingAndGlyphs">отказался от приёмки товара</text>
<text class="body" x="716.7" y="468" textLength="207.0" lengthAdjust="spacingAndGlyphs">или некорректно переместил остатки.</text>
</g>

<!-- ===== BOTTOM ===== -->
<text class="h" x="424.5" y="516.8" font-size="16.2" textLength="273.1" lengthAdjust="spacingAndGlyphs">Определение зоны ответственности</text>
<text class="body" x="424.5" y="535.2" textLength="225.0" lengthAdjust="spacingAndGlyphs">Результат анализа — присвоение статуса</text>
<text class="body" x="424.5" y="547.6" textLength="257.3" lengthAdjust="spacingAndGlyphs">ответственности конкретному подразделению.</text>

<!-- ===== WATERMARK ===== -->
<g id="wm">
<g fill="none" stroke="#1c1c1c" stroke-linecap="butt">
<path d="M949.7 567.3 V565.0 A4.55 4.55 0 0 1 958.8 565.0 V567.3" stroke-width="1.15"/>
<path d="M951.9 567.3 V565.6 A2.45 2.45 0 0 1 956.8 565.6 V567.3" stroke-width="1.0"/>
<path d="M949.7 564.4 A2.6 2.6 0 0 1 954.6 567.3" stroke-width="0.9"/>
</g>
<text x="963.1" y="567.2" font-size="9.5" textLength="57" lengthAdjust="spacingAndGlyphs" style="fill:#1c1c1c;stroke:#1c1c1c;stroke-width:0.35px">NotebookLM</text>
</g>
</svg>
</body>
</html>
